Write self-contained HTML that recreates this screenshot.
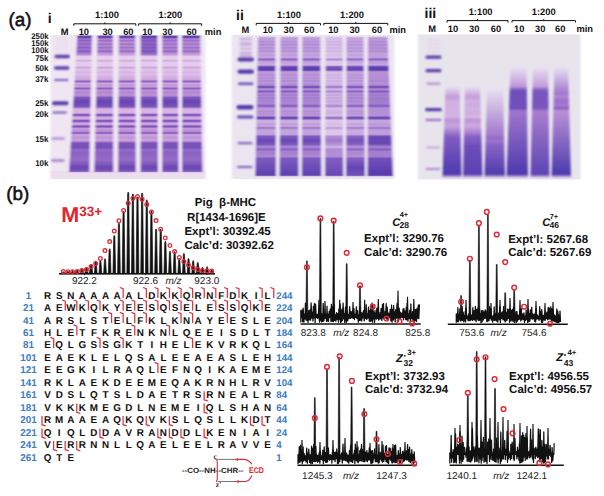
<!DOCTYPE html>
<html><head><meta charset="utf-8"><style>
html,body{margin:0;padding:0;background:#fff;width:604px;height:496px;overflow:hidden;}
svg{display:block;}
text{font-family:"Liberation Sans",sans-serif;text-rendering:geometricPrecision;}
</style></head><body>
<svg width="604" height="496" viewBox="0 0 604 496">
<defs>
<filter id="blur1" x="-5%" y="-5%" width="110%" height="110%"><feGaussianBlur stdDeviation="0.9 0"/></filter>
<filter id="blurM" x="-5%" y="-5%" width="110%" height="110%"><feGaussianBlur stdDeviation="0.8"/></filter>
<filter id="blur2" x="-5%" y="-5%" width="110%" height="110%"><feGaussianBlur stdDeviation="1.3 1.0"/></filter>
<linearGradient id="g1" gradientUnits="userSpaceOnUse" x1="0" y1="35.5" x2="0" y2="172.3"><stop offset="0.0000" stop-color="#7550b8"/><stop offset="0.0073" stop-color="#613fae"/><stop offset="0.0110" stop-color="#603fad"/><stop offset="0.0146" stop-color="#6946b2"/><stop offset="0.0238" stop-color="#996ec9"/><stop offset="0.0274" stop-color="#9e73ca"/><stop offset="0.0365" stop-color="#8b61c3"/><stop offset="0.0493" stop-color="#a378cc"/><stop offset="0.0621" stop-color="#8e63c5"/><stop offset="0.0749" stop-color="#a479cc"/><stop offset="0.0877" stop-color="#8b61c3"/><stop offset="0.1005" stop-color="#a176cb"/><stop offset="0.1133" stop-color="#855cc0"/><stop offset="0.1188" stop-color="#8b62c4"/><stop offset="0.1298" stop-color="#a87dce"/><stop offset="0.1389" stop-color="#b78bd4"/><stop offset="0.1535" stop-color="#e4caeb"/><stop offset="0.1681" stop-color="#e6d1ed"/><stop offset="0.1736" stop-color="#e4cbeb"/><stop offset="0.1827" stop-color="#d2aee1"/><stop offset="0.1864" stop-color="#d2aee1"/><stop offset="0.1974" stop-color="#e4cceb"/><stop offset="0.2211" stop-color="#e3caea"/><stop offset="0.2339" stop-color="#cda7de"/><stop offset="0.2376" stop-color="#cda7de"/><stop offset="0.2485" stop-color="#e1c3e8"/><stop offset="0.2723" stop-color="#d7b6e3"/><stop offset="0.2851" stop-color="#ddbee7"/><stop offset="0.2979" stop-color="#d4b1e2"/><stop offset="0.3070" stop-color="#d4b1e2"/><stop offset="0.3162" stop-color="#cda7de"/><stop offset="0.3216" stop-color="#cca6de"/><stop offset="0.3253" stop-color="#c298d8"/><stop offset="0.3326" stop-color="#9369c7"/><stop offset="0.3344" stop-color="#8e64c5"/><stop offset="0.3363" stop-color="#8d63c5"/><stop offset="0.3399" stop-color="#9b71c9"/><stop offset="0.3472" stop-color="#c69eda"/><stop offset="0.3509" stop-color="#cca6dd"/><stop offset="0.3618" stop-color="#c095d7"/><stop offset="0.3728" stop-color="#c69eda"/><stop offset="0.3765" stop-color="#c094d7"/><stop offset="0.3838" stop-color="#946ac7"/><stop offset="0.3874" stop-color="#8a60c3"/><stop offset="0.3911" stop-color="#9268c6"/><stop offset="0.3984" stop-color="#b88dd4"/><stop offset="0.4020" stop-color="#bf94d7"/><stop offset="0.4130" stop-color="#b186d1"/><stop offset="0.4349" stop-color="#be93d6"/><stop offset="0.4423" stop-color="#b185d1"/><stop offset="0.4532" stop-color="#8058be"/><stop offset="0.4806" stop-color="#6745b1"/><stop offset="0.5172" stop-color="#7751b9"/><stop offset="0.5227" stop-color="#895fc2"/><stop offset="0.5355" stop-color="#cda7de"/><stop offset="0.5428" stop-color="#d7b6e3"/><stop offset="0.5629" stop-color="#d5b2e2"/><stop offset="0.5665" stop-color="#cea9de"/><stop offset="0.5702" stop-color="#bf93d6"/><stop offset="0.5757" stop-color="#9066c6"/><stop offset="0.5793" stop-color="#7d56bc"/><stop offset="0.5811" stop-color="#7a54bb"/><stop offset="0.5830" stop-color="#7c55bc"/><stop offset="0.5866" stop-color="#8f65c5"/><stop offset="0.5939" stop-color="#c59cda"/><stop offset="0.5976" stop-color="#cfaadf"/><stop offset="0.6067" stop-color="#d1ace0"/><stop offset="0.6104" stop-color="#caa3dd"/><stop offset="0.6140" stop-color="#bb8fd5"/><stop offset="0.6195" stop-color="#8f65c5"/><stop offset="0.6232" stop-color="#7c55bc"/><stop offset="0.6250" stop-color="#7953ba"/><stop offset="0.6287" stop-color="#835bbf"/><stop offset="0.6378" stop-color="#c39ad9"/><stop offset="0.6414" stop-color="#cda7de"/><stop offset="0.6469" stop-color="#cfaadf"/><stop offset="0.6506" stop-color="#c9a1dc"/><stop offset="0.6542" stop-color="#ba8ed4"/><stop offset="0.6597" stop-color="#8e64c5"/><stop offset="0.6634" stop-color="#7c55bc"/><stop offset="0.6670" stop-color="#7c55bb"/><stop offset="0.6707" stop-color="#8d63c5"/><stop offset="0.6762" stop-color="#b78cd4"/><stop offset="0.6798" stop-color="#c59bda"/><stop offset="0.6835" stop-color="#c59bda"/><stop offset="0.6908" stop-color="#ba8ed5"/><stop offset="0.6981" stop-color="#bf94d7"/><stop offset="0.7018" stop-color="#b68bd3"/><stop offset="0.7091" stop-color="#8d63c4"/><stop offset="0.7127" stop-color="#885fc2"/><stop offset="0.7164" stop-color="#966bc7"/><stop offset="0.7237" stop-color="#c298d8"/><stop offset="0.7292" stop-color="#cca5dd"/><stop offset="0.7456" stop-color="#bf94d7"/><stop offset="0.7639" stop-color="#cba4dd"/><stop offset="0.7712" stop-color="#c298d8"/><stop offset="0.7858" stop-color="#7c55bc"/><stop offset="0.8187" stop-color="#7550b8"/><stop offset="0.8370" stop-color="#986ec8"/><stop offset="0.8534" stop-color="#8b62c4"/><stop offset="0.9101" stop-color="#956bc7"/><stop offset="0.9631" stop-color="#6b47b3"/><stop offset="0.9887" stop-color="#7953ba"/><stop offset="0.9996" stop-color="#ae83d0"/></linearGradient>
<linearGradient id="g2" gradientUnits="userSpaceOnUse" x1="0" y1="35.5" x2="0" y2="172.3"><stop offset="0.0000" stop-color="#7550b8"/><stop offset="0.0073" stop-color="#6140ae"/><stop offset="0.0110" stop-color="#6140ae"/><stop offset="0.0146" stop-color="#6d49b4"/><stop offset="0.0219" stop-color="#9f75cb"/><stop offset="0.0256" stop-color="#ae83d0"/><stop offset="0.0292" stop-color="#ad81d0"/><stop offset="0.0365" stop-color="#9a6fc9"/><stop offset="0.0402" stop-color="#9d72ca"/><stop offset="0.0475" stop-color="#b488d2"/><stop offset="0.0512" stop-color="#b68bd3"/><stop offset="0.0621" stop-color="#9c72ca"/><stop offset="0.0676" stop-color="#a479cd"/><stop offset="0.0749" stop-color="#b68bd3"/><stop offset="0.0804" stop-color="#af83d0"/><stop offset="0.0877" stop-color="#9a6fc9"/><stop offset="0.0914" stop-color="#9d72ca"/><stop offset="0.0987" stop-color="#b286d2"/><stop offset="0.1023" stop-color="#b286d2"/><stop offset="0.1115" stop-color="#966bc7"/><stop offset="0.1151" stop-color="#9369c7"/><stop offset="0.1298" stop-color="#bc90d5"/><stop offset="0.1407" stop-color="#c9a1dc"/><stop offset="0.1535" stop-color="#e4cceb"/><stop offset="0.1681" stop-color="#e6d1ed"/><stop offset="0.1736" stop-color="#e4cbeb"/><stop offset="0.1827" stop-color="#d2aee1"/><stop offset="0.1864" stop-color="#d2aee1"/><stop offset="0.1974" stop-color="#e4cceb"/><stop offset="0.2211" stop-color="#e3caea"/><stop offset="0.2339" stop-color="#cda7de"/><stop offset="0.2376" stop-color="#cda7de"/><stop offset="0.2485" stop-color="#e1c3e8"/><stop offset="0.2723" stop-color="#d7b6e3"/><stop offset="0.2851" stop-color="#ddbee7"/><stop offset="0.2979" stop-color="#d4b1e2"/><stop offset="0.3070" stop-color="#d4b1e2"/><stop offset="0.3162" stop-color="#cda7de"/><stop offset="0.3216" stop-color="#cca6de"/><stop offset="0.3253" stop-color="#c298d8"/><stop offset="0.3326" stop-color="#9369c7"/><stop offset="0.3344" stop-color="#8e64c5"/><stop offset="0.3363" stop-color="#8d63c5"/><stop offset="0.3399" stop-color="#9b71c9"/><stop offset="0.3472" stop-color="#c69eda"/><stop offset="0.3509" stop-color="#cca6dd"/><stop offset="0.3618" stop-color="#c095d7"/><stop offset="0.3728" stop-color="#c69eda"/><stop offset="0.3765" stop-color="#c094d7"/><stop offset="0.3838" stop-color="#946ac7"/><stop offset="0.3874" stop-color="#8a60c3"/><stop offset="0.3911" stop-color="#9268c6"/><stop offset="0.3984" stop-color="#b88dd4"/><stop offset="0.4020" stop-color="#bf94d7"/><stop offset="0.4130" stop-color="#b186d1"/><stop offset="0.4349" stop-color="#be93d6"/><stop offset="0.4423" stop-color="#b185d1"/><stop offset="0.4532" stop-color="#8058be"/><stop offset="0.4806" stop-color="#6745b1"/><stop offset="0.5172" stop-color="#7751b9"/><stop offset="0.5227" stop-color="#895fc2"/><stop offset="0.5355" stop-color="#cda7de"/><stop offset="0.5428" stop-color="#d7b6e3"/><stop offset="0.5629" stop-color="#d5b2e2"/><stop offset="0.5665" stop-color="#cea9de"/><stop offset="0.5702" stop-color="#bf93d6"/><stop offset="0.5757" stop-color="#9066c6"/><stop offset="0.5793" stop-color="#7d56bc"/><stop offset="0.5811" stop-color="#7a54bb"/><stop offset="0.5830" stop-color="#7c55bc"/><stop offset="0.5866" stop-color="#8f65c5"/><stop offset="0.5939" stop-color="#c59cda"/><stop offset="0.5976" stop-color="#cfaadf"/><stop offset="0.6067" stop-color="#d1ace0"/><stop offset="0.6104" stop-color="#caa3dd"/><stop offset="0.6140" stop-color="#bb8fd5"/><stop offset="0.6195" stop-color="#8f65c5"/><stop offset="0.6232" stop-color="#7c55bc"/><stop offset="0.6250" stop-color="#7953ba"/><stop offset="0.6287" stop-color="#835bbf"/><stop offset="0.6378" stop-color="#c39ad9"/><stop offset="0.6414" stop-color="#cda7de"/><stop offset="0.6469" stop-color="#cfaadf"/><stop offset="0.6506" stop-color="#c9a1dc"/><stop offset="0.6542" stop-color="#ba8ed4"/><stop offset="0.6597" stop-color="#8e64c5"/><stop offset="0.6634" stop-color="#7c55bc"/><stop offset="0.6670" stop-color="#7c55bb"/><stop offset="0.6707" stop-color="#8d63c5"/><stop offset="0.6762" stop-color="#b78cd4"/><stop offset="0.6798" stop-color="#c59bda"/><stop offset="0.6835" stop-color="#c59bda"/><stop offset="0.6908" stop-color="#ba8ed5"/><stop offset="0.6981" stop-color="#bf94d7"/><stop offset="0.7018" stop-color="#b68bd3"/><stop offset="0.7091" stop-color="#8d63c4"/><stop offset="0.7127" stop-color="#885fc2"/><stop offset="0.7164" stop-color="#966bc7"/><stop offset="0.7237" stop-color="#c298d8"/><stop offset="0.7292" stop-color="#cca5dd"/><stop offset="0.7456" stop-color="#bf94d7"/><stop offset="0.7639" stop-color="#cba4dd"/><stop offset="0.7712" stop-color="#c298d8"/><stop offset="0.7858" stop-color="#7c55bc"/><stop offset="0.8187" stop-color="#7550b8"/><stop offset="0.8370" stop-color="#986ec8"/><stop offset="0.8534" stop-color="#8b62c4"/><stop offset="0.9101" stop-color="#956bc7"/><stop offset="0.9631" stop-color="#6b47b3"/><stop offset="0.9887" stop-color="#7953ba"/><stop offset="0.9996" stop-color="#ae83d0"/></linearGradient>
<linearGradient id="g3" gradientUnits="userSpaceOnUse" x1="0" y1="35.5" x2="0" y2="172.3"><stop offset="0.0000" stop-color="#7550b8"/><stop offset="0.0073" stop-color="#6140ae"/><stop offset="0.0110" stop-color="#6140ae"/><stop offset="0.0146" stop-color="#6d4ab4"/><stop offset="0.0219" stop-color="#a277cc"/><stop offset="0.0256" stop-color="#b286d2"/><stop offset="0.0292" stop-color="#b085d1"/><stop offset="0.0365" stop-color="#9d73ca"/><stop offset="0.0402" stop-color="#a076cb"/><stop offset="0.0475" stop-color="#b78cd4"/><stop offset="0.0512" stop-color="#ba8ed5"/><stop offset="0.0621" stop-color="#a075cb"/><stop offset="0.0676" stop-color="#a87dce"/><stop offset="0.0749" stop-color="#ba8ed5"/><stop offset="0.0804" stop-color="#b287d2"/><stop offset="0.0877" stop-color="#9d73ca"/><stop offset="0.0914" stop-color="#a075cb"/><stop offset="0.0987" stop-color="#b68ad3"/><stop offset="0.1023" stop-color="#b68ad3"/><stop offset="0.1115" stop-color="#996fc9"/><stop offset="0.1151" stop-color="#966cc8"/><stop offset="0.1298" stop-color="#bf94d7"/><stop offset="0.1407" stop-color="#cba4dd"/><stop offset="0.1535" stop-color="#e4cceb"/><stop offset="0.1681" stop-color="#e6d1ed"/><stop offset="0.1736" stop-color="#e4cbeb"/><stop offset="0.1827" stop-color="#d2aee1"/><stop offset="0.1864" stop-color="#d2aee1"/><stop offset="0.1974" stop-color="#e4cceb"/><stop offset="0.2211" stop-color="#e3caea"/><stop offset="0.2339" stop-color="#cda7de"/><stop offset="0.2376" stop-color="#cda7de"/><stop offset="0.2485" stop-color="#e1c3e8"/><stop offset="0.2723" stop-color="#d7b6e3"/><stop offset="0.2851" stop-color="#ddbee7"/><stop offset="0.2979" stop-color="#d4b1e2"/><stop offset="0.3070" stop-color="#d4b1e2"/><stop offset="0.3162" stop-color="#cda7de"/><stop offset="0.3216" stop-color="#cca6de"/><stop offset="0.3253" stop-color="#c298d8"/><stop offset="0.3326" stop-color="#9369c7"/><stop offset="0.3344" stop-color="#8e64c5"/><stop offset="0.3363" stop-color="#8d63c5"/><stop offset="0.3399" stop-color="#9b71c9"/><stop offset="0.3472" stop-color="#c69eda"/><stop offset="0.3509" stop-color="#cca6dd"/><stop offset="0.3618" stop-color="#c095d7"/><stop offset="0.3728" stop-color="#c69eda"/><stop offset="0.3765" stop-color="#c094d7"/><stop offset="0.3838" stop-color="#946ac7"/><stop offset="0.3874" stop-color="#8a60c3"/><stop offset="0.3911" stop-color="#9268c6"/><stop offset="0.3984" stop-color="#b88dd4"/><stop offset="0.4020" stop-color="#bf94d7"/><stop offset="0.4130" stop-color="#b186d1"/><stop offset="0.4349" stop-color="#be93d6"/><stop offset="0.4423" stop-color="#b185d1"/><stop offset="0.4532" stop-color="#8058be"/><stop offset="0.4806" stop-color="#6745b1"/><stop offset="0.5172" stop-color="#7751b9"/><stop offset="0.5227" stop-color="#895fc2"/><stop offset="0.5355" stop-color="#cda7de"/><stop offset="0.5428" stop-color="#d7b6e3"/><stop offset="0.5629" stop-color="#d5b2e2"/><stop offset="0.5665" stop-color="#cea9de"/><stop offset="0.5702" stop-color="#bf93d6"/><stop offset="0.5757" stop-color="#9066c6"/><stop offset="0.5793" stop-color="#7d56bc"/><stop offset="0.5811" stop-color="#7a54bb"/><stop offset="0.5830" stop-color="#7c55bc"/><stop offset="0.5866" stop-color="#8f65c5"/><stop offset="0.5939" stop-color="#c59cda"/><stop offset="0.5976" stop-color="#cfaadf"/><stop offset="0.6067" stop-color="#d1ace0"/><stop offset="0.6104" stop-color="#caa3dd"/><stop offset="0.6140" stop-color="#bb8fd5"/><stop offset="0.6195" stop-color="#8f65c5"/><stop offset="0.6232" stop-color="#7c55bc"/><stop offset="0.6250" stop-color="#7953ba"/><stop offset="0.6287" stop-color="#835bbf"/><stop offset="0.6378" stop-color="#c39ad9"/><stop offset="0.6414" stop-color="#cda7de"/><stop offset="0.6469" stop-color="#cfaadf"/><stop offset="0.6506" stop-color="#c9a1dc"/><stop offset="0.6542" stop-color="#ba8ed4"/><stop offset="0.6597" stop-color="#8e64c5"/><stop offset="0.6634" stop-color="#7c55bc"/><stop offset="0.6670" stop-color="#7c55bb"/><stop offset="0.6707" stop-color="#8d63c5"/><stop offset="0.6762" stop-color="#b78cd4"/><stop offset="0.6798" stop-color="#c59bda"/><stop offset="0.6835" stop-color="#c59bda"/><stop offset="0.6908" stop-color="#ba8ed5"/><stop offset="0.6981" stop-color="#bf94d7"/><stop offset="0.7018" stop-color="#b68bd3"/><stop offset="0.7091" stop-color="#8d63c4"/><stop offset="0.7127" stop-color="#885fc2"/><stop offset="0.7164" stop-color="#966bc7"/><stop offset="0.7237" stop-color="#c298d8"/><stop offset="0.7292" stop-color="#cca5dd"/><stop offset="0.7456" stop-color="#bf94d7"/><stop offset="0.7639" stop-color="#cba4dd"/><stop offset="0.7712" stop-color="#c298d8"/><stop offset="0.7858" stop-color="#7c55bc"/><stop offset="0.8187" stop-color="#7550b8"/><stop offset="0.8370" stop-color="#986ec8"/><stop offset="0.8534" stop-color="#8b62c4"/><stop offset="0.9101" stop-color="#956bc7"/><stop offset="0.9631" stop-color="#6b47b3"/><stop offset="0.9887" stop-color="#7953ba"/><stop offset="0.9996" stop-color="#ae83d0"/></linearGradient>
<linearGradient id="g4" gradientUnits="userSpaceOnUse" x1="0" y1="35.5" x2="0" y2="172.3"><stop offset="0.0000" stop-color="#7550b8"/><stop offset="0.0073" stop-color="#613fad"/><stop offset="0.0128" stop-color="#613fad"/><stop offset="0.0238" stop-color="#865dc1"/><stop offset="0.0292" stop-color="#885fc2"/><stop offset="0.0384" stop-color="#7e57bd"/><stop offset="0.0512" stop-color="#8e64c5"/><stop offset="0.0640" stop-color="#8159be"/><stop offset="0.0768" stop-color="#8e64c5"/><stop offset="0.0895" stop-color="#7e57bd"/><stop offset="0.1005" stop-color="#8c62c4"/><stop offset="0.1151" stop-color="#7a54bb"/><stop offset="0.1371" stop-color="#9c71ca"/><stop offset="0.1425" stop-color="#b58ad3"/><stop offset="0.1517" stop-color="#e0c3e8"/><stop offset="0.1572" stop-color="#e6cfec"/><stop offset="0.1700" stop-color="#e6d0ec"/><stop offset="0.1827" stop-color="#d2aee1"/><stop offset="0.1864" stop-color="#d2aee1"/><stop offset="0.1974" stop-color="#e4cceb"/><stop offset="0.2211" stop-color="#e3caea"/><stop offset="0.2339" stop-color="#cda7de"/><stop offset="0.2376" stop-color="#cda7de"/><stop offset="0.2485" stop-color="#e1c3e8"/><stop offset="0.2723" stop-color="#d7b6e3"/><stop offset="0.2851" stop-color="#ddbee7"/><stop offset="0.2979" stop-color="#d4b1e2"/><stop offset="0.3070" stop-color="#d4b1e2"/><stop offset="0.3162" stop-color="#cda7de"/><stop offset="0.3216" stop-color="#cca6de"/><stop offset="0.3253" stop-color="#c298d8"/><stop offset="0.3326" stop-color="#9369c7"/><stop offset="0.3344" stop-color="#8e64c5"/><stop offset="0.3363" stop-color="#8d63c5"/><stop offset="0.3399" stop-color="#9b71c9"/><stop offset="0.3472" stop-color="#c69eda"/><stop offset="0.3509" stop-color="#cca6dd"/><stop offset="0.3618" stop-color="#c095d7"/><stop offset="0.3728" stop-color="#c69eda"/><stop offset="0.3765" stop-color="#c094d7"/><stop offset="0.3838" stop-color="#946ac7"/><stop offset="0.3874" stop-color="#8a60c3"/><stop offset="0.3911" stop-color="#9268c6"/><stop offset="0.3984" stop-color="#b88dd4"/><stop offset="0.4020" stop-color="#bf94d7"/><stop offset="0.4130" stop-color="#b186d1"/><stop offset="0.4349" stop-color="#be93d6"/><stop offset="0.4423" stop-color="#b185d1"/><stop offset="0.4532" stop-color="#8058be"/><stop offset="0.4806" stop-color="#6745b1"/><stop offset="0.5172" stop-color="#7751b9"/><stop offset="0.5227" stop-color="#895fc2"/><stop offset="0.5355" stop-color="#cda7de"/><stop offset="0.5428" stop-color="#d7b6e3"/><stop offset="0.5629" stop-color="#d5b2e2"/><stop offset="0.5665" stop-color="#cea9de"/><stop offset="0.5702" stop-color="#bf93d6"/><stop offset="0.5757" stop-color="#9066c6"/><stop offset="0.5793" stop-color="#7d56bc"/><stop offset="0.5811" stop-color="#7a54bb"/><stop offset="0.5830" stop-color="#7c55bc"/><stop offset="0.5866" stop-color="#8f65c5"/><stop offset="0.5939" stop-color="#c59cda"/><stop offset="0.5976" stop-color="#cfaadf"/><stop offset="0.6067" stop-color="#d1ace0"/><stop offset="0.6104" stop-color="#caa3dd"/><stop offset="0.6140" stop-color="#bb8fd5"/><stop offset="0.6195" stop-color="#8f65c5"/><stop offset="0.6232" stop-color="#7c55bc"/><stop offset="0.6250" stop-color="#7953ba"/><stop offset="0.6287" stop-color="#835bbf"/><stop offset="0.6378" stop-color="#c39ad9"/><stop offset="0.6414" stop-color="#cda7de"/><stop offset="0.6469" stop-color="#cfaadf"/><stop offset="0.6506" stop-color="#c9a1dc"/><stop offset="0.6542" stop-color="#ba8ed4"/><stop offset="0.6597" stop-color="#8e64c5"/><stop offset="0.6634" stop-color="#7c55bc"/><stop offset="0.6670" stop-color="#7c55bb"/><stop offset="0.6707" stop-color="#8d63c5"/><stop offset="0.6762" stop-color="#b78cd4"/><stop offset="0.6798" stop-color="#c59bda"/><stop offset="0.6835" stop-color="#c59bda"/><stop offset="0.6908" stop-color="#ba8ed5"/><stop offset="0.6981" stop-color="#bf94d7"/><stop offset="0.7018" stop-color="#b68bd3"/><stop offset="0.7091" stop-color="#8d63c4"/><stop offset="0.7127" stop-color="#885fc2"/><stop offset="0.7164" stop-color="#966bc7"/><stop offset="0.7237" stop-color="#c298d8"/><stop offset="0.7292" stop-color="#cca5dd"/><stop offset="0.7456" stop-color="#bf94d7"/><stop offset="0.7639" stop-color="#cba4dd"/><stop offset="0.7712" stop-color="#c298d8"/><stop offset="0.7858" stop-color="#7c55bc"/><stop offset="0.8187" stop-color="#7550b8"/><stop offset="0.8370" stop-color="#986ec8"/><stop offset="0.8534" stop-color="#8b62c4"/><stop offset="0.9101" stop-color="#956bc7"/><stop offset="0.9631" stop-color="#6b47b3"/><stop offset="0.9887" stop-color="#7953ba"/><stop offset="0.9996" stop-color="#ae83d0"/></linearGradient>
<linearGradient id="g5" gradientUnits="userSpaceOnUse" x1="0" y1="35.5" x2="0" y2="172.3"><stop offset="0.0000" stop-color="#7550b8"/><stop offset="0.0073" stop-color="#6140ae"/><stop offset="0.0110" stop-color="#613fad"/><stop offset="0.0146" stop-color="#6c48b3"/><stop offset="0.0238" stop-color="#a67bcd"/><stop offset="0.0274" stop-color="#ac81d0"/><stop offset="0.0365" stop-color="#996ec9"/><stop offset="0.0420" stop-color="#a075cb"/><stop offset="0.0493" stop-color="#b387d2"/><stop offset="0.0548" stop-color="#ad82d0"/><stop offset="0.0621" stop-color="#9b71c9"/><stop offset="0.0749" stop-color="#b387d2"/><stop offset="0.0804" stop-color="#ac81cf"/><stop offset="0.0877" stop-color="#996ec9"/><stop offset="0.0932" stop-color="#a075cb"/><stop offset="0.0987" stop-color="#af84d1"/><stop offset="0.1023" stop-color="#af83d1"/><stop offset="0.1133" stop-color="#9268c6"/><stop offset="0.1188" stop-color="#996fc9"/><stop offset="0.1279" stop-color="#b58ad3"/><stop offset="0.1389" stop-color="#c399d9"/><stop offset="0.1535" stop-color="#e4cbeb"/><stop offset="0.1681" stop-color="#e6d1ed"/><stop offset="0.1736" stop-color="#e4cbeb"/><stop offset="0.1827" stop-color="#d2aee1"/><stop offset="0.1864" stop-color="#d2aee1"/><stop offset="0.1974" stop-color="#e4cceb"/><stop offset="0.2211" stop-color="#e3caea"/><stop offset="0.2339" stop-color="#cda7de"/><stop offset="0.2376" stop-color="#cda7de"/><stop offset="0.2485" stop-color="#e1c3e8"/><stop offset="0.2723" stop-color="#d7b6e3"/><stop offset="0.2851" stop-color="#ddbee7"/><stop offset="0.2979" stop-color="#d4b1e2"/><stop offset="0.3070" stop-color="#d4b1e2"/><stop offset="0.3162" stop-color="#cda7de"/><stop offset="0.3216" stop-color="#cca6de"/><stop offset="0.3253" stop-color="#c298d8"/><stop offset="0.3326" stop-color="#9369c7"/><stop offset="0.3344" stop-color="#8e64c5"/><stop offset="0.3363" stop-color="#8d63c5"/><stop offset="0.3399" stop-color="#9b71c9"/><stop offset="0.3472" stop-color="#c69eda"/><stop offset="0.3509" stop-color="#cca6dd"/><stop offset="0.3618" stop-color="#c095d7"/><stop offset="0.3728" stop-color="#c69eda"/><stop offset="0.3765" stop-color="#c094d7"/><stop offset="0.3838" stop-color="#946ac7"/><stop offset="0.3874" stop-color="#8a60c3"/><stop offset="0.3911" stop-color="#9268c6"/><stop offset="0.3984" stop-color="#b88dd4"/><stop offset="0.4020" stop-color="#bf94d7"/><stop offset="0.4130" stop-color="#b186d1"/><stop offset="0.4349" stop-color="#be93d6"/><stop offset="0.4423" stop-color="#b185d1"/><stop offset="0.4532" stop-color="#8058be"/><stop offset="0.4806" stop-color="#6745b1"/><stop offset="0.5172" stop-color="#7751b9"/><stop offset="0.5227" stop-color="#895fc2"/><stop offset="0.5355" stop-color="#cda7de"/><stop offset="0.5428" stop-color="#d7b6e3"/><stop offset="0.5629" stop-color="#d5b2e2"/><stop offset="0.5665" stop-color="#cea9de"/><stop offset="0.5702" stop-color="#bf93d6"/><stop offset="0.5757" stop-color="#9066c6"/><stop offset="0.5793" stop-color="#7d56bc"/><stop offset="0.5811" stop-color="#7a54bb"/><stop offset="0.5830" stop-color="#7c55bc"/><stop offset="0.5866" stop-color="#8f65c5"/><stop offset="0.5939" stop-color="#c59cda"/><stop offset="0.5976" stop-color="#cfaadf"/><stop offset="0.6067" stop-color="#d1ace0"/><stop offset="0.6104" stop-color="#caa3dd"/><stop offset="0.6140" stop-color="#bb8fd5"/><stop offset="0.6195" stop-color="#8f65c5"/><stop offset="0.6232" stop-color="#7c55bc"/><stop offset="0.6250" stop-color="#7953ba"/><stop offset="0.6287" stop-color="#835bbf"/><stop offset="0.6378" stop-color="#c39ad9"/><stop offset="0.6414" stop-color="#cda7de"/><stop offset="0.6469" stop-color="#cfaadf"/><stop offset="0.6506" stop-color="#c9a1dc"/><stop offset="0.6542" stop-color="#ba8ed4"/><stop offset="0.6597" stop-color="#8e64c5"/><stop offset="0.6634" stop-color="#7c55bc"/><stop offset="0.6670" stop-color="#7c55bb"/><stop offset="0.6707" stop-color="#8d63c5"/><stop offset="0.6762" stop-color="#b78cd4"/><stop offset="0.6798" stop-color="#c59bda"/><stop offset="0.6835" stop-color="#c59bda"/><stop offset="0.6908" stop-color="#ba8ed5"/><stop offset="0.6981" stop-color="#bf94d7"/><stop offset="0.7018" stop-color="#b68bd3"/><stop offset="0.7091" stop-color="#8d63c4"/><stop offset="0.7127" stop-color="#885fc2"/><stop offset="0.7164" stop-color="#966bc7"/><stop offset="0.7237" stop-color="#c298d8"/><stop offset="0.7292" stop-color="#cca5dd"/><stop offset="0.7456" stop-color="#bf94d7"/><stop offset="0.7639" stop-color="#cba4dd"/><stop offset="0.7712" stop-color="#c298d8"/><stop offset="0.7858" stop-color="#7c55bc"/><stop offset="0.8187" stop-color="#7550b8"/><stop offset="0.8370" stop-color="#986ec8"/><stop offset="0.8534" stop-color="#8b62c4"/><stop offset="0.9101" stop-color="#956bc7"/><stop offset="0.9631" stop-color="#6b47b3"/><stop offset="0.9887" stop-color="#7953ba"/><stop offset="0.9996" stop-color="#ae83d0"/></linearGradient>
<linearGradient id="g6" gradientUnits="userSpaceOnUse" x1="0" y1="35.5" x2="0" y2="172.3"><stop offset="0.0000" stop-color="#7550b8"/><stop offset="0.0073" stop-color="#6140ae"/><stop offset="0.0110" stop-color="#6140ae"/><stop offset="0.0146" stop-color="#6d49b4"/><stop offset="0.0238" stop-color="#a97ece"/><stop offset="0.0274" stop-color="#b085d1"/><stop offset="0.0365" stop-color="#9c71ca"/><stop offset="0.0420" stop-color="#a479cd"/><stop offset="0.0493" stop-color="#b78bd3"/><stop offset="0.0548" stop-color="#b185d1"/><stop offset="0.0621" stop-color="#9f74cb"/><stop offset="0.0749" stop-color="#b78bd3"/><stop offset="0.0804" stop-color="#b084d1"/><stop offset="0.0877" stop-color="#9c71ca"/><stop offset="0.0932" stop-color="#a479cd"/><stop offset="0.0987" stop-color="#b387d2"/><stop offset="0.1023" stop-color="#b387d2"/><stop offset="0.1133" stop-color="#966bc8"/><stop offset="0.1188" stop-color="#9d72ca"/><stop offset="0.1279" stop-color="#b98dd4"/><stop offset="0.1389" stop-color="#c59cda"/><stop offset="0.1535" stop-color="#e4cceb"/><stop offset="0.1681" stop-color="#e6d1ed"/><stop offset="0.1736" stop-color="#e4cbeb"/><stop offset="0.1827" stop-color="#d2aee1"/><stop offset="0.1864" stop-color="#d2aee1"/><stop offset="0.1974" stop-color="#e4cceb"/><stop offset="0.2211" stop-color="#e3caea"/><stop offset="0.2339" stop-color="#cda7de"/><stop offset="0.2376" stop-color="#cda7de"/><stop offset="0.2485" stop-color="#e1c3e8"/><stop offset="0.2723" stop-color="#d7b6e3"/><stop offset="0.2851" stop-color="#ddbee7"/><stop offset="0.2979" stop-color="#d4b1e2"/><stop offset="0.3070" stop-color="#d4b1e2"/><stop offset="0.3162" stop-color="#cda7de"/><stop offset="0.3216" stop-color="#cca6de"/><stop offset="0.3253" stop-color="#c298d8"/><stop offset="0.3326" stop-color="#9369c7"/><stop offset="0.3344" stop-color="#8e64c5"/><stop offset="0.3363" stop-color="#8d63c5"/><stop offset="0.3399" stop-color="#9b71c9"/><stop offset="0.3472" stop-color="#c69eda"/><stop offset="0.3509" stop-color="#cca6dd"/><stop offset="0.3618" stop-color="#c095d7"/><stop offset="0.3728" stop-color="#c69eda"/><stop offset="0.3765" stop-color="#c094d7"/><stop offset="0.3838" stop-color="#946ac7"/><stop offset="0.3874" stop-color="#8a60c3"/><stop offset="0.3911" stop-color="#9268c6"/><stop offset="0.3984" stop-color="#b88dd4"/><stop offset="0.4020" stop-color="#bf94d7"/><stop offset="0.4130" stop-color="#b186d1"/><stop offset="0.4349" stop-color="#be93d6"/><stop offset="0.4423" stop-color="#b185d1"/><stop offset="0.4532" stop-color="#8058be"/><stop offset="0.4806" stop-color="#6745b1"/><stop offset="0.5172" stop-color="#7751b9"/><stop offset="0.5227" stop-color="#895fc2"/><stop offset="0.5355" stop-color="#cda7de"/><stop offset="0.5428" stop-color="#d7b6e3"/><stop offset="0.5629" stop-color="#d5b2e2"/><stop offset="0.5665" stop-color="#cea9de"/><stop offset="0.5702" stop-color="#bf93d6"/><stop offset="0.5757" stop-color="#9066c6"/><stop offset="0.5793" stop-color="#7d56bc"/><stop offset="0.5811" stop-color="#7a54bb"/><stop offset="0.5830" stop-color="#7c55bc"/><stop offset="0.5866" stop-color="#8f65c5"/><stop offset="0.5939" stop-color="#c59cda"/><stop offset="0.5976" stop-color="#cfaadf"/><stop offset="0.6067" stop-color="#d1ace0"/><stop offset="0.6104" stop-color="#caa3dd"/><stop offset="0.6140" stop-color="#bb8fd5"/><stop offset="0.6195" stop-color="#8f65c5"/><stop offset="0.6232" stop-color="#7c55bc"/><stop offset="0.6250" stop-color="#7953ba"/><stop offset="0.6287" stop-color="#835bbf"/><stop offset="0.6378" stop-color="#c39ad9"/><stop offset="0.6414" stop-color="#cda7de"/><stop offset="0.6469" stop-color="#cfaadf"/><stop offset="0.6506" stop-color="#c9a1dc"/><stop offset="0.6542" stop-color="#ba8ed4"/><stop offset="0.6597" stop-color="#8e64c5"/><stop offset="0.6634" stop-color="#7c55bc"/><stop offset="0.6670" stop-color="#7c55bb"/><stop offset="0.6707" stop-color="#8d63c5"/><stop offset="0.6762" stop-color="#b78cd4"/><stop offset="0.6798" stop-color="#c59bda"/><stop offset="0.6835" stop-color="#c59bda"/><stop offset="0.6908" stop-color="#ba8ed5"/><stop offset="0.6981" stop-color="#bf94d7"/><stop offset="0.7018" stop-color="#b68bd3"/><stop offset="0.7091" stop-color="#8d63c4"/><stop offset="0.7127" stop-color="#885fc2"/><stop offset="0.7164" stop-color="#966bc7"/><stop offset="0.7237" stop-color="#c298d8"/><stop offset="0.7292" stop-color="#cca5dd"/><stop offset="0.7456" stop-color="#bf94d7"/><stop offset="0.7639" stop-color="#cba4dd"/><stop offset="0.7712" stop-color="#c298d8"/><stop offset="0.7858" stop-color="#7c55bc"/><stop offset="0.8187" stop-color="#7550b8"/><stop offset="0.8370" stop-color="#986ec8"/><stop offset="0.8534" stop-color="#8b62c4"/><stop offset="0.9101" stop-color="#956bc7"/><stop offset="0.9631" stop-color="#6b47b3"/><stop offset="0.9887" stop-color="#7953ba"/><stop offset="0.9996" stop-color="#ae83d0"/></linearGradient>
<linearGradient id="g7" gradientUnits="userSpaceOnUse" x1="0" y1="36.5" x2="0" y2="176.3"><stop offset="0.0000" stop-color="#d7c0e8"/><stop offset="0.0125" stop-color="#bc9ad9"/><stop offset="0.0268" stop-color="#c09fdb"/><stop offset="0.0358" stop-color="#b38dd4"/><stop offset="0.0465" stop-color="#bd9cda"/><stop offset="0.0572" stop-color="#b18bd4"/><stop offset="0.0715" stop-color="#bd9bda"/><stop offset="0.0823" stop-color="#b18bd4"/><stop offset="0.0930" stop-color="#bd9cda"/><stop offset="0.1037" stop-color="#b28dd4"/><stop offset="0.1198" stop-color="#c5a6de"/><stop offset="0.1341" stop-color="#bd9bda"/><stop offset="0.1466" stop-color="#c7a9df"/><stop offset="0.1520" stop-color="#bd9cda"/><stop offset="0.1609" stop-color="#926dc8"/><stop offset="0.1645" stop-color="#8c67c6"/><stop offset="0.1681" stop-color="#926dc8"/><stop offset="0.1770" stop-color="#be9cda"/><stop offset="0.2003" stop-color="#c8aadf"/><stop offset="0.2039" stop-color="#c3a4dd"/><stop offset="0.2074" stop-color="#b590d6"/><stop offset="0.2164" stop-color="#6d4db8"/><stop offset="0.2200" stop-color="#5f42b1"/><stop offset="0.2361" stop-color="#5c3faf"/><stop offset="0.2396" stop-color="#6445b3"/><stop offset="0.2432" stop-color="#7755bd"/><stop offset="0.2504" stop-color="#af89d3"/><stop offset="0.2539" stop-color="#bb99d9"/><stop offset="0.2665" stop-color="#bc99d9"/><stop offset="0.2754" stop-color="#b28cd4"/><stop offset="0.2879" stop-color="#ba98d8"/><stop offset="0.2986" stop-color="#b28cd4"/><stop offset="0.3076" stop-color="#ba97d8"/><stop offset="0.3183" stop-color="#ac86d2"/><stop offset="0.3290" stop-color="#ba97d8"/><stop offset="0.3469" stop-color="#b18bd3"/><stop offset="0.3505" stop-color="#a47ecf"/><stop offset="0.3577" stop-color="#7856bd"/><stop offset="0.3612" stop-color="#7050b9"/><stop offset="0.3648" stop-color="#7755bd"/><stop offset="0.3737" stop-color="#ac86d2"/><stop offset="0.3773" stop-color="#b590d6"/><stop offset="0.3809" stop-color="#b38dd4"/><stop offset="0.3916" stop-color="#825ec2"/><stop offset="0.3952" stop-color="#815ec2"/><stop offset="0.4041" stop-color="#a883d0"/><stop offset="0.4077" stop-color="#af89d3"/><stop offset="0.4185" stop-color="#a17bce"/><stop offset="0.4292" stop-color="#ad88d2"/><stop offset="0.4399" stop-color="#a07bcd"/><stop offset="0.4524" stop-color="#ad87d2"/><stop offset="0.4649" stop-color="#a782d0"/><stop offset="0.4810" stop-color="#ac87d2"/><stop offset="0.4954" stop-color="#835fc2"/><stop offset="0.4989" stop-color="#8460c3"/><stop offset="0.5114" stop-color="#b895d7"/><stop offset="0.5222" stop-color="#bd9bda"/><stop offset="0.5329" stop-color="#b28cd4"/><stop offset="0.5436" stop-color="#b793d7"/><stop offset="0.5526" stop-color="#b28cd4"/><stop offset="0.5633" stop-color="#bc9ad9"/><stop offset="0.5669" stop-color="#b792d6"/><stop offset="0.5705" stop-color="#a57fcf"/><stop offset="0.5776" stop-color="#7352bb"/><stop offset="0.5812" stop-color="#6849b5"/><stop offset="0.5848" stop-color="#6949b5"/><stop offset="0.5883" stop-color="#7654bc"/><stop offset="0.5973" stop-color="#bb99d9"/><stop offset="0.6009" stop-color="#c9abe0"/><stop offset="0.6152" stop-color="#caaee1"/><stop offset="0.6259" stop-color="#bc99d9"/><stop offset="0.6384" stop-color="#c8aadf"/><stop offset="0.6438" stop-color="#be9cda"/><stop offset="0.6509" stop-color="#a57fcf"/><stop offset="0.6563" stop-color="#a17cce"/><stop offset="0.6688" stop-color="#c4a5de"/><stop offset="0.6992" stop-color="#c3a3dd"/><stop offset="0.7046" stop-color="#b38dd4"/><stop offset="0.7135" stop-color="#7f5cc1"/><stop offset="0.7421" stop-color="#6a4ab6"/><stop offset="0.7707" stop-color="#7856bd"/><stop offset="0.7851" stop-color="#a782d0"/><stop offset="0.7922" stop-color="#ac86d2"/><stop offset="0.8065" stop-color="#8864c4"/><stop offset="0.8119" stop-color="#8b67c5"/><stop offset="0.8208" stop-color="#a681d0"/><stop offset="0.8369" stop-color="#a680cf"/><stop offset="0.8548" stop-color="#b08ad3"/><stop offset="0.8619" stop-color="#a27dce"/><stop offset="0.8709" stop-color="#7e5bc0"/><stop offset="0.9853" stop-color="#6042b1"/><stop offset="0.9907" stop-color="#6a4bb6"/><stop offset="0.9996" stop-color="#9b76cb"/></linearGradient>
<linearGradient id="g8" gradientUnits="userSpaceOnUse" x1="0" y1="36.5" x2="0" y2="176.3"><stop offset="0.0000" stop-color="#d4bbe6"/><stop offset="0.0143" stop-color="#b996d8"/><stop offset="0.0268" stop-color="#bc9ad9"/><stop offset="0.0358" stop-color="#b08bd3"/><stop offset="0.0483" stop-color="#b895d7"/><stop offset="0.0590" stop-color="#af89d3"/><stop offset="0.0715" stop-color="#b894d7"/><stop offset="0.0840" stop-color="#b08ad3"/><stop offset="0.0948" stop-color="#b895d7"/><stop offset="0.1037" stop-color="#b08ad3"/><stop offset="0.1216" stop-color="#c09fdb"/><stop offset="0.1484" stop-color="#c1a1dc"/><stop offset="0.1538" stop-color="#b38dd5"/><stop offset="0.1609" stop-color="#916cc8"/><stop offset="0.1645" stop-color="#8b67c5"/><stop offset="0.1681" stop-color="#916cc8"/><stop offset="0.1770" stop-color="#ba97d8"/><stop offset="0.2003" stop-color="#c3a4dd"/><stop offset="0.2057" stop-color="#b996d8"/><stop offset="0.2092" stop-color="#a47fcf"/><stop offset="0.2164" stop-color="#6c4cb7"/><stop offset="0.2200" stop-color="#5f41b0"/><stop offset="0.2361" stop-color="#5c3faf"/><stop offset="0.2396" stop-color="#6345b3"/><stop offset="0.2432" stop-color="#7554bc"/><stop offset="0.2504" stop-color="#aa84d1"/><stop offset="0.2539" stop-color="#b692d6"/><stop offset="0.3112" stop-color="#b28dd4"/><stop offset="0.3183" stop-color="#a984d1"/><stop offset="0.3308" stop-color="#b691d6"/><stop offset="0.3469" stop-color="#ad87d2"/><stop offset="0.3505" stop-color="#a07acd"/><stop offset="0.3577" stop-color="#7755bc"/><stop offset="0.3612" stop-color="#704fb9"/><stop offset="0.3648" stop-color="#7654bc"/><stop offset="0.3737" stop-color="#a781d0"/><stop offset="0.3773" stop-color="#af89d3"/><stop offset="0.3809" stop-color="#ad87d2"/><stop offset="0.3916" stop-color="#805dc1"/><stop offset="0.3952" stop-color="#805cc1"/><stop offset="0.4041" stop-color="#a27dce"/><stop offset="0.4095" stop-color="#a883d0"/><stop offset="0.4202" stop-color="#9f79cd"/><stop offset="0.4310" stop-color="#a781d0"/><stop offset="0.4417" stop-color="#9e79cc"/><stop offset="0.4810" stop-color="#a57fcf"/><stop offset="0.4954" stop-color="#825ec2"/><stop offset="0.4989" stop-color="#835fc3"/><stop offset="0.5114" stop-color="#b38ed5"/><stop offset="0.5651" stop-color="#b591d6"/><stop offset="0.5687" stop-color="#aa85d1"/><stop offset="0.5776" stop-color="#7251ba"/><stop offset="0.5812" stop-color="#6849b5"/><stop offset="0.5848" stop-color="#6849b5"/><stop offset="0.5883" stop-color="#7553bb"/><stop offset="0.5973" stop-color="#b894d7"/><stop offset="0.6009" stop-color="#c4a6de"/><stop offset="0.6170" stop-color="#c4a6de"/><stop offset="0.6259" stop-color="#ba97d8"/><stop offset="0.6384" stop-color="#c3a4dd"/><stop offset="0.6527" stop-color="#a17cce"/><stop offset="0.6581" stop-color="#a47ecf"/><stop offset="0.6688" stop-color="#c09fdb"/><stop offset="0.6974" stop-color="#c09fdb"/><stop offset="0.7028" stop-color="#b48fd5"/><stop offset="0.7135" stop-color="#7453bb"/><stop offset="0.7189" stop-color="#6849b5"/><stop offset="0.7690" stop-color="#6a4ab6"/><stop offset="0.7851" stop-color="#9f7acd"/><stop offset="0.7922" stop-color="#a47fcf"/><stop offset="0.8065" stop-color="#8763c4"/><stop offset="0.8119" stop-color="#8965c5"/><stop offset="0.8226" stop-color="#a37ece"/><stop offset="0.8566" stop-color="#a781d0"/><stop offset="0.8619" stop-color="#9974cb"/><stop offset="0.8709" stop-color="#7352bb"/><stop offset="0.9853" stop-color="#573bad"/><stop offset="0.9907" stop-color="#6243b2"/><stop offset="0.9996" stop-color="#936ec8"/></linearGradient>
<linearGradient id="g9" gradientUnits="userSpaceOnUse" x1="0" y1="36.5" x2="0" y2="176.3"><stop offset="0.0000" stop-color="#dbc5ea"/><stop offset="0.0125" stop-color="#c1a0dc"/><stop offset="0.0268" stop-color="#c5a6de"/><stop offset="0.0358" stop-color="#b794d7"/><stop offset="0.0465" stop-color="#c3a3dd"/><stop offset="0.0572" stop-color="#b692d6"/><stop offset="0.0715" stop-color="#c2a3dd"/><stop offset="0.0823" stop-color="#b692d6"/><stop offset="0.0930" stop-color="#c2a3dd"/><stop offset="0.1037" stop-color="#b793d7"/><stop offset="0.1180" stop-color="#caade1"/><stop offset="0.1341" stop-color="#c1a1dc"/><stop offset="0.1466" stop-color="#ccb0e2"/><stop offset="0.1520" stop-color="#c3a3dd"/><stop offset="0.1609" stop-color="#9974cb"/><stop offset="0.1645" stop-color="#936ec8"/><stop offset="0.1681" stop-color="#9974cb"/><stop offset="0.1770" stop-color="#c3a3dd"/><stop offset="0.2003" stop-color="#cdb1e2"/><stop offset="0.2057" stop-color="#c3a3dd"/><stop offset="0.2092" stop-color="#af89d3"/><stop offset="0.2164" stop-color="#7554bc"/><stop offset="0.2200" stop-color="#6848b5"/><stop offset="0.2361" stop-color="#6446b3"/><stop offset="0.2396" stop-color="#6c4cb7"/><stop offset="0.2432" stop-color="#7f5cc0"/><stop offset="0.2504" stop-color="#b591d6"/><stop offset="0.2539" stop-color="#c1a1dc"/><stop offset="0.2665" stop-color="#c1a1dc"/><stop offset="0.2754" stop-color="#b792d6"/><stop offset="0.2879" stop-color="#c09fdb"/><stop offset="0.2969" stop-color="#b792d6"/><stop offset="0.3076" stop-color="#c09fdb"/><stop offset="0.3183" stop-color="#b28cd4"/><stop offset="0.3290" stop-color="#c09fdb"/><stop offset="0.3469" stop-color="#b692d6"/><stop offset="0.3505" stop-color="#ab85d1"/><stop offset="0.3577" stop-color="#7f5cc1"/><stop offset="0.3612" stop-color="#7856bd"/><stop offset="0.3648" stop-color="#7f5bc0"/><stop offset="0.3737" stop-color="#b38ed5"/><stop offset="0.3773" stop-color="#bb99d9"/><stop offset="0.3809" stop-color="#b995d8"/><stop offset="0.3916" stop-color="#8a65c5"/><stop offset="0.3952" stop-color="#8965c5"/><stop offset="0.4041" stop-color="#b08ad3"/><stop offset="0.4077" stop-color="#b591d6"/><stop offset="0.4185" stop-color="#a782d0"/><stop offset="0.4292" stop-color="#b48fd5"/><stop offset="0.4399" stop-color="#a781d0"/><stop offset="0.4524" stop-color="#b48ed5"/><stop offset="0.4632" stop-color="#ac87d2"/><stop offset="0.4793" stop-color="#b591d6"/><stop offset="0.4864" stop-color="#a882d0"/><stop offset="0.4936" stop-color="#8e69c6"/><stop offset="0.4971" stop-color="#8a65c5"/><stop offset="0.5007" stop-color="#906cc7"/><stop offset="0.5114" stop-color="#be9dda"/><stop offset="0.5222" stop-color="#c3a3dd"/><stop offset="0.5329" stop-color="#b792d6"/><stop offset="0.5436" stop-color="#bc9ad9"/><stop offset="0.5526" stop-color="#b793d7"/><stop offset="0.5633" stop-color="#c2a2dc"/><stop offset="0.5669" stop-color="#bc9ad9"/><stop offset="0.5705" stop-color="#ac86d2"/><stop offset="0.5776" stop-color="#7b58be"/><stop offset="0.5812" stop-color="#704fb9"/><stop offset="0.5848" stop-color="#7150b9"/><stop offset="0.5883" stop-color="#7d5ac0"/><stop offset="0.5973" stop-color="#c1a0dc"/><stop offset="0.6009" stop-color="#cdb2e2"/><stop offset="0.6152" stop-color="#cfb4e3"/><stop offset="0.6259" stop-color="#c09fdb"/><stop offset="0.6384" stop-color="#ccb0e2"/><stop offset="0.6438" stop-color="#c3a3dd"/><stop offset="0.6509" stop-color="#ab85d1"/><stop offset="0.6563" stop-color="#a782d0"/><stop offset="0.6688" stop-color="#c9ace0"/><stop offset="0.6992" stop-color="#c8abe0"/><stop offset="0.7046" stop-color="#b996d8"/><stop offset="0.7135" stop-color="#8b66c5"/><stop offset="0.7421" stop-color="#7352bb"/><stop offset="0.7707" stop-color="#8460c3"/><stop offset="0.7851" stop-color="#b08ad3"/><stop offset="0.7922" stop-color="#b48ed5"/><stop offset="0.8065" stop-color="#8f6bc7"/><stop offset="0.8119" stop-color="#926ec8"/><stop offset="0.8208" stop-color="#ae88d3"/><stop offset="0.8369" stop-color="#ac87d2"/><stop offset="0.8566" stop-color="#b692d6"/><stop offset="0.8727" stop-color="#8661c3"/><stop offset="0.9371" stop-color="#6345b3"/><stop offset="0.9871" stop-color="#6f4fb9"/><stop offset="0.9925" stop-color="#7d5ac0"/><stop offset="0.9996" stop-color="#a57fcf"/></linearGradient>
<linearGradient id="g10" gradientUnits="userSpaceOnUse" x1="0" y1="36.5" x2="0" y2="176.3"><stop offset="0.0000" stop-color="#e2d0ed"/><stop offset="0.0143" stop-color="#d3bae5"/><stop offset="0.0268" stop-color="#d9c2e8"/><stop offset="0.0358" stop-color="#ceb2e2"/><stop offset="0.0465" stop-color="#d7c0e8"/><stop offset="0.0590" stop-color="#cdb2e2"/><stop offset="0.0715" stop-color="#d8c0e8"/><stop offset="0.0823" stop-color="#cdb1e2"/><stop offset="0.0930" stop-color="#d7c0e8"/><stop offset="0.1037" stop-color="#cdb2e2"/><stop offset="0.1198" stop-color="#ddc7ea"/><stop offset="0.1341" stop-color="#d5bce6"/><stop offset="0.1466" stop-color="#ddc8eb"/><stop offset="0.1520" stop-color="#d7bfe7"/><stop offset="0.1609" stop-color="#b995d7"/><stop offset="0.1645" stop-color="#b48fd5"/><stop offset="0.1699" stop-color="#be9cda"/><stop offset="0.1788" stop-color="#dbc5ea"/><stop offset="0.2021" stop-color="#ddc7ea"/><stop offset="0.2057" stop-color="#d5bce6"/><stop offset="0.2092" stop-color="#c0a0db"/><stop offset="0.2146" stop-color="#906cc7"/><stop offset="0.2182" stop-color="#7a57be"/><stop offset="0.2343" stop-color="#6f4fb9"/><stop offset="0.2378" stop-color="#7452bb"/><stop offset="0.2414" stop-color="#825ec2"/><stop offset="0.2504" stop-color="#c8abe0"/><stop offset="0.2539" stop-color="#d6bde7"/><stop offset="0.2665" stop-color="#d6bee7"/><stop offset="0.2754" stop-color="#cdb1e2"/><stop offset="0.2879" stop-color="#d5bde7"/><stop offset="0.2986" stop-color="#ceb2e2"/><stop offset="0.3076" stop-color="#d5bde6"/><stop offset="0.3183" stop-color="#c9ace0"/><stop offset="0.3308" stop-color="#d5bce6"/><stop offset="0.3487" stop-color="#cbafe1"/><stop offset="0.3577" stop-color="#a781d0"/><stop offset="0.3612" stop-color="#a07bcd"/><stop offset="0.3648" stop-color="#a681d0"/><stop offset="0.3737" stop-color="#ccb1e2"/><stop offset="0.3773" stop-color="#d3bae5"/><stop offset="0.3827" stop-color="#cdb2e2"/><stop offset="0.3916" stop-color="#af89d3"/><stop offset="0.3952" stop-color="#af89d3"/><stop offset="0.4059" stop-color="#cdb2e2"/><stop offset="0.4202" stop-color="#c4a5dd"/><stop offset="0.4292" stop-color="#ceb2e2"/><stop offset="0.4399" stop-color="#c3a3dd"/><stop offset="0.4524" stop-color="#cdb1e2"/><stop offset="0.4632" stop-color="#c6a8df"/><stop offset="0.4810" stop-color="#ceb3e3"/><stop offset="0.4954" stop-color="#af89d3"/><stop offset="0.5007" stop-color="#b38ed5"/><stop offset="0.5114" stop-color="#d5bce6"/><stop offset="0.5240" stop-color="#d6bee7"/><stop offset="0.5347" stop-color="#cdb2e2"/><stop offset="0.5544" stop-color="#cfb5e3"/><stop offset="0.5633" stop-color="#d8c0e8"/><stop offset="0.5687" stop-color="#ceb3e3"/><stop offset="0.5776" stop-color="#a37ece"/><stop offset="0.5812" stop-color="#9a75cb"/><stop offset="0.5848" stop-color="#9a75cb"/><stop offset="0.5883" stop-color="#a57fcf"/><stop offset="0.5973" stop-color="#d5bde7"/><stop offset="0.6026" stop-color="#decaeb"/><stop offset="0.6277" stop-color="#d4bbe6"/><stop offset="0.6384" stop-color="#ddc8eb"/><stop offset="0.6527" stop-color="#c2a2dc"/><stop offset="0.6581" stop-color="#c4a5dd"/><stop offset="0.6706" stop-color="#ddc8ea"/><stop offset="0.7010" stop-color="#dac4e9"/><stop offset="0.7153" stop-color="#b38dd4"/><stop offset="0.7421" stop-color="#a07bcd"/><stop offset="0.7743" stop-color="#b894d7"/><stop offset="0.7868" stop-color="#ccb0e2"/><stop offset="0.7958" stop-color="#c7a9df"/><stop offset="0.8065" stop-color="#b18bd4"/><stop offset="0.8566" stop-color="#b691d6"/><stop offset="0.8727" stop-color="#815dc2"/><stop offset="0.9871" stop-color="#6a4ab6"/><stop offset="0.9925" stop-color="#7956bd"/><stop offset="0.9996" stop-color="#a17cce"/></linearGradient>
<linearGradient id="g11" gradientUnits="userSpaceOnUse" x1="0" y1="86.0" x2="0" y2="177.5"><stop offset="0.0000" stop-color="#ebe4f1"/><stop offset="0.1202" stop-color="#c29ada"/><stop offset="0.1721" stop-color="#d1b0e1"/><stop offset="0.3470" stop-color="#d2b2e2"/><stop offset="0.3661" stop-color="#bb8fd6"/><stop offset="0.4344" stop-color="#caa6de"/><stop offset="0.5574" stop-color="#815cc2"/><stop offset="0.9645" stop-color="#4d3bad"/><stop offset="0.9727" stop-color="#5e45b4"/><stop offset="0.9945" stop-color="#cdabe0"/><stop offset="1.0000" stop-color="#dbc0e7"/></linearGradient>
<linearGradient id="g12" gradientUnits="userSpaceOnUse" x1="0" y1="86.0" x2="0" y2="177.5"><stop offset="0.0000" stop-color="#ebe4f1"/><stop offset="0.1202" stop-color="#c39cdb"/><stop offset="0.1694" stop-color="#d4b5e3"/><stop offset="0.1885" stop-color="#ccaadf"/><stop offset="0.2705" stop-color="#d4b5e3"/><stop offset="0.2869" stop-color="#cdaadf"/><stop offset="0.3443" stop-color="#d6b8e4"/><stop offset="0.3661" stop-color="#bb90d7"/><stop offset="0.4317" stop-color="#ceace0"/><stop offset="0.4536" stop-color="#c59fdc"/><stop offset="0.5383" stop-color="#986fca"/><stop offset="0.5519" stop-color="#835ec3"/><stop offset="0.6202" stop-color="#7c58c1"/><stop offset="0.6366" stop-color="#6f4fbb"/><stop offset="0.9645" stop-color="#5741b1"/><stop offset="0.9727" stop-color="#684bb8"/><stop offset="0.9945" stop-color="#d0afe1"/><stop offset="1.0000" stop-color="#ddc3e8"/></linearGradient>
<linearGradient id="g13" gradientUnits="userSpaceOnUse" x1="0" y1="86.0" x2="0" y2="177.5"><stop offset="0.0000" stop-color="#ece6f2"/><stop offset="0.5492" stop-color="#a176cd"/><stop offset="0.5628" stop-color="#9169c8"/><stop offset="0.6038" stop-color="#a177cd"/><stop offset="0.6257" stop-color="#8e66c7"/><stop offset="0.9645" stop-color="#4f3cae"/><stop offset="0.9727" stop-color="#6046b5"/><stop offset="0.9945" stop-color="#ceace0"/><stop offset="1.0000" stop-color="#dbc0e7"/></linearGradient>
<linearGradient id="g14" gradientUnits="userSpaceOnUse" x1="0" y1="66.0" x2="0" y2="177.5"><stop offset="0.0000" stop-color="#ebe5f2"/><stop offset="0.1816" stop-color="#c199da"/><stop offset="0.2175" stop-color="#6e4fbb"/><stop offset="0.3700" stop-color="#7150bc"/><stop offset="0.3812" stop-color="#684bb8"/><stop offset="0.4013" stop-color="#a176cd"/><stop offset="0.9709" stop-color="#4d3aad"/><stop offset="0.9776" stop-color="#5e45b4"/><stop offset="0.9955" stop-color="#cdabe0"/><stop offset="1.0000" stop-color="#dbc0e7"/></linearGradient>
<linearGradient id="g15" gradientUnits="userSpaceOnUse" x1="0" y1="66.0" x2="0" y2="177.5"><stop offset="0.0000" stop-color="#ebe5f2"/><stop offset="0.1839" stop-color="#c39cdb"/><stop offset="0.2197" stop-color="#7855bf"/><stop offset="0.3834" stop-color="#7855bf"/><stop offset="0.4013" stop-color="#aa7ed0"/><stop offset="0.9709" stop-color="#5c44b3"/><stop offset="0.9776" stop-color="#6c4dba"/><stop offset="0.9955" stop-color="#d1b1e2"/><stop offset="1.0000" stop-color="#dec4e8"/></linearGradient>
<linearGradient id="g16" gradientUnits="userSpaceOnUse" x1="0" y1="66.0" x2="0" y2="177.5"><stop offset="0.0000" stop-color="#ebe5f2"/><stop offset="0.2511" stop-color="#9f75cc"/><stop offset="0.2735" stop-color="#b689d4"/><stop offset="0.3072" stop-color="#9970ca"/><stop offset="0.3565" stop-color="#a97dd0"/><stop offset="0.3789" stop-color="#7e59c1"/><stop offset="0.3834" stop-color="#815cc2"/><stop offset="0.3991" stop-color="#bc91d7"/><stop offset="0.9709" stop-color="#4d3bad"/><stop offset="0.9776" stop-color="#5e45b4"/><stop offset="0.9955" stop-color="#cdabe0"/><stop offset="1.0000" stop-color="#dbc0e7"/></linearGradient>
</defs>
<rect width="604" height="496" fill="#fff"/>
<g filter="url(#blur1)">
<rect x="50.5" y="35" width="155" height="144" fill="#efe6f2"/>
<rect x="50.5" y="171" width="155" height="8" fill="#ebdeee"/>
<polygon points="77.3,35.5 92.0,35.5 89.3,172.3 69.0,172.3" fill="url(#g1)" opacity="1.00"/>
<polygon points="97.5,35.5 113.0,35.5 113.3,172.3 94.3,172.3" fill="url(#g2)" opacity="1.00"/>
<polygon points="118.8,35.5 135.3,35.5 135.8,172.3 118.0,172.3" fill="url(#g3)" opacity="1.00"/>
<polygon points="140.6,35.5 157.3,35.5 158.0,172.3 140.6,172.3" fill="url(#g4)" opacity="1.00"/>
<polygon points="162.2,35.5 178.0,35.5 178.6,172.3 162.2,172.3" fill="url(#g5)" opacity="1.00"/>
<polygon points="182.0,35.5 200.3,35.5 202.5,172.3 182.0,172.3" fill="url(#g6)" opacity="1.00"/>
</g>
<g filter="url(#blurM)">
<rect x="56.0" y="38.0" width="12.0" height="1.0" rx="0.5" fill="#e6d0ec"/>
<rect x="56.0" y="41.0" width="12.0" height="1.0" rx="0.5" fill="#e6d0ec"/>
<rect x="56.0" y="44.0" width="12.0" height="1.0" rx="0.5" fill="#e6d0ec"/>
<rect x="56.0" y="47.0" width="12.0" height="1.0" rx="0.5" fill="#e6d0ec"/>
<rect x="56.0" y="50.0" width="12.0" height="1.0" rx="0.5" fill="#e6d0ec"/>
<rect x="54.5" y="54.7" width="15.5" height="3.6" rx="1.8" fill="#5e3dac"/>
<rect x="54.0" y="66.2" width="15.5" height="3.6" rx="1.8" fill="#603fad"/>
<rect x="54.0" y="78.9" width="14.5" height="2.2" rx="1.1" fill="#825abf"/>
<rect x="52.0" y="101.3" width="16.5" height="4.0" rx="2.0" fill="#5a3aaa"/>
<rect x="52.5" y="111.4" width="14.5" height="2.2" rx="1.1" fill="#7a54bb"/>
<rect x="51.5" y="137.5" width="13.5" height="1.9" rx="0.9" fill="#a67bcd"/>
<rect x="51.0" y="159.6" width="13.5" height="2.0" rx="1.0" fill="#9268c6"/>
</g>
<g filter="url(#blur1)">
<rect x="231.5" y="35" width="163" height="144" fill="#ebe5f0"/>
<polygon points="258.0,36.5 275.3,36.5 276.0,176.3 255.3,176.3" fill="url(#g7)" opacity="1.00"/>
<polygon points="280.5,36.5 298.0,36.5 298.5,176.3 279.5,176.3" fill="url(#g7)" opacity="1.00"/>
<polygon points="302.3,36.5 320.3,36.5 321.3,176.3 301.8,176.3" fill="url(#g7)" opacity="1.00"/>
<polygon points="325.8,36.5 342.5,36.5 343.3,176.3 325.0,176.3" fill="url(#g10)" opacity="1.00"/>
<polygon points="346.5,36.5 363.5,36.5 365.0,176.3 346.0,176.3" fill="url(#g9)" opacity="1.00"/>
<polygon points="368.0,36.5 387.5,36.5 393.0,176.3 367.5,176.3" fill="url(#g8)" opacity="1.00"/>
</g>
<g filter="url(#blurM)">
<rect x="239.5" y="38.3" width="12.5" height="1.4" rx="0.7" fill="#b28cd4"/>
<rect x="239.5" y="42.2" width="12.5" height="1.4" rx="0.7" fill="#b28cd4"/>
<rect x="239.5" y="44.4" width="12.5" height="1.4" rx="0.7" fill="#b28cd4"/>
<rect x="239.5" y="48.2" width="12.5" height="1.4" rx="0.7" fill="#b28cd4"/>
<rect x="239.5" y="52.0" width="12.5" height="1.4" rx="0.7" fill="#b28cd4"/>
<rect x="239.5" y="55.0" width="12.5" height="1.4" rx="0.7" fill="#b28cd4"/>
<rect x="237.5" y="57.6" width="16.5" height="3.8" rx="1.9" fill="#563aac"/>
<rect x="237.5" y="69.4" width="16.5" height="4.4" rx="2.2" fill="#563aac"/>
<rect x="238.0" y="82.4" width="15.5" height="2.6" rx="1.3" fill="#6b4bb7"/>
<rect x="236.5" y="105.0" width="17.0" height="4.6" rx="2.3" fill="#563aac"/>
<rect x="237.0" y="115.5" width="16.5" height="2.9" rx="1.4" fill="#6446b3"/>
<rect x="237.5" y="142.1" width="15.0" height="2.2" rx="1.1" fill="#8864c4"/>
<rect x="237.0" y="165.9" width="15.5" height="2.2" rx="1.1" fill="#7d5abf"/>
</g>
<rect x="418" y="34.5" width="162.5" height="145" fill="#e7e4ec" filter="url(#blur1)"/>
<g filter="url(#blur2)">
<polygon points="445.5,86.0 459.5,86.0 461.5,177.5 442.5,177.5" fill="url(#g11)" opacity="1.00"/>
<polygon points="465.0,86.0 480.0,86.0 482.5,177.5 463.0,177.5" fill="url(#g12)" opacity="1.00"/>
<polygon points="487.0,86.0 503.0,86.0 505.0,177.5 484.5,177.5" fill="url(#g13)" opacity="1.00"/>
<polygon points="510.5,66.0 526.5,66.0 528.0,177.5 506.5,177.5" fill="url(#g14)" opacity="1.00"/>
<polygon points="533.0,66.0 548.0,66.0 549.5,177.5 530.5,177.5" fill="url(#g15)" opacity="1.00"/>
<polygon points="554.5,66.0 568.0,66.0 571.0,177.5 551.5,177.5" fill="url(#g16)" opacity="1.00"/>
</g>
<g filter="url(#blurM)">
<rect x="427.0" y="39.5" width="13.0" height="1.0" rx="0.5" fill="#e3c8ea"/>
<rect x="427.0" y="43.5" width="13.0" height="1.0" rx="0.5" fill="#e3c8ea"/>
<rect x="427.0" y="47.5" width="13.0" height="1.0" rx="0.5" fill="#e3c8ea"/>
<rect x="427.0" y="51.5" width="13.0" height="1.0" rx="0.5" fill="#e3c8ea"/>
<rect x="425.5" y="55.6" width="16.0" height="3.2" rx="1.6" fill="#5e3dac"/>
<rect x="425.5" y="69.0" width="16.0" height="3.2" rx="1.6" fill="#5e3dac"/>
<rect x="426.5" y="82.7" width="14.0" height="1.8" rx="0.9" fill="#a67bcd"/>
<rect x="425.0" y="107.9" width="17.0" height="3.4" rx="1.7" fill="#5a3aaa"/>
<rect x="425.5" y="119.0" width="16.0" height="1.9" rx="0.9" fill="#9268c6"/>
<rect x="426.0" y="146.7" width="14.0" height="1.6" rx="0.8" fill="#be92d6"/>
<rect x="425.5" y="168.0" width="15.0" height="1.7" rx="0.8" fill="#a67bcd"/>
</g>
<text x="8.6" y="25.6" font-size="18.80" font-weight="normal" text-anchor="start" fill="#111" stroke="#111" stroke-width="0.55">(a)</text>
<text x="47.8" y="23.0" font-size="14.00" font-weight="bold" text-anchor="start" fill="#111" >i</text>
<text x="236.0" y="20.2" font-size="14.00" font-weight="bold" text-anchor="start" fill="#111" >ii</text>
<text x="424.5" y="18.0" font-size="14.00" font-weight="bold" text-anchor="start" fill="#111" >iii</text>
<text x="64.5" y="34.6" font-size="9.30" font-weight="bold" text-anchor="middle" fill="#111" >M</text>
<text x="83.8" y="34.6" font-size="9.30" font-weight="bold" text-anchor="middle" fill="#111" >10</text>
<text x="107.6" y="34.6" font-size="9.30" font-weight="bold" text-anchor="middle" fill="#111" >30</text>
<text x="128.3" y="34.6" font-size="9.30" font-weight="bold" text-anchor="middle" fill="#111" >60</text>
<text x="147.3" y="34.6" font-size="9.30" font-weight="bold" text-anchor="middle" fill="#111" >10</text>
<text x="167.5" y="34.6" font-size="9.30" font-weight="bold" text-anchor="middle" fill="#111" >30</text>
<text x="191.6" y="34.6" font-size="9.30" font-weight="bold" text-anchor="middle" fill="#111" >60</text>
<text x="204.8" y="34.6" font-size="9.30" font-weight="bold" text-anchor="start" fill="#111" >min</text>
<text x="107.0" y="17.8" font-size="9.30" font-weight="bold" text-anchor="middle" fill="#111" >1:100</text>
<text x="170.3" y="17.8" font-size="9.30" font-weight="bold" text-anchor="middle" fill="#111" >1:200</text>
<path d="M73.8,25.8 V23.8 H135.8 V25.8 M104.8,23.8 V22.3" stroke="#111" stroke-width="1" fill="none"/>
<path d="M138.6,25.8 V23.8 H201.6 V25.8 M170.1,23.8 V22.3" stroke="#111" stroke-width="1" fill="none"/>
<text x="245.4" y="33.4" font-size="9.30" font-weight="bold" text-anchor="middle" fill="#111" >M</text>
<text x="267.8" y="33.4" font-size="9.30" font-weight="bold" text-anchor="middle" fill="#111" >10</text>
<text x="288.7" y="33.4" font-size="9.30" font-weight="bold" text-anchor="middle" fill="#111" >30</text>
<text x="309.2" y="33.4" font-size="9.30" font-weight="bold" text-anchor="middle" fill="#111" >60</text>
<text x="333.3" y="33.4" font-size="9.30" font-weight="bold" text-anchor="middle" fill="#111" >10</text>
<text x="354.6" y="33.4" font-size="9.30" font-weight="bold" text-anchor="middle" fill="#111" >30</text>
<text x="377.0" y="33.4" font-size="9.30" font-weight="bold" text-anchor="middle" fill="#111" >60</text>
<text x="389.5" y="33.4" font-size="9.30" font-weight="bold" text-anchor="start" fill="#111" >min</text>
<text x="289.0" y="17.7" font-size="9.30" font-weight="bold" text-anchor="middle" fill="#111" >1:100</text>
<text x="352.0" y="17.7" font-size="9.30" font-weight="bold" text-anchor="middle" fill="#111" >1:200</text>
<path d="M256.2,25.4 V23.4 H320.5 V25.4 M288.4,23.4 V21.9" stroke="#111" stroke-width="1" fill="none"/>
<path d="M323.8,25.4 V23.4 H387.8 V25.4 M355.8,23.4 V21.9" stroke="#111" stroke-width="1" fill="none"/>
<text x="432.0" y="32.0" font-size="9.30" font-weight="bold" text-anchor="middle" fill="#111" >M</text>
<text x="453.0" y="32.0" font-size="9.30" font-weight="bold" text-anchor="middle" fill="#111" >10</text>
<text x="474.2" y="32.0" font-size="9.30" font-weight="bold" text-anchor="middle" fill="#111" >30</text>
<text x="495.9" y="32.0" font-size="9.30" font-weight="bold" text-anchor="middle" fill="#111" >60</text>
<text x="519.2" y="32.0" font-size="9.30" font-weight="bold" text-anchor="middle" fill="#111" >10</text>
<text x="540.2" y="32.0" font-size="9.30" font-weight="bold" text-anchor="middle" fill="#111" >30</text>
<text x="560.2" y="32.0" font-size="9.30" font-weight="bold" text-anchor="middle" fill="#111" >60</text>
<text x="576.4" y="32.0" font-size="9.30" font-weight="bold" text-anchor="start" fill="#111" >min</text>
<text x="480.6" y="15.2" font-size="9.30" font-weight="bold" text-anchor="middle" fill="#111" >1:100</text>
<text x="543.7" y="15.2" font-size="9.30" font-weight="bold" text-anchor="middle" fill="#111" >1:200</text>
<path d="M447.0,22.6 V20.6 H508.0 V22.6 M477.5,20.6 V19.1" stroke="#111" stroke-width="1" fill="none"/>
<path d="M512.0,22.6 V20.6 H575.5 V22.6 M543.8,20.6 V19.1" stroke="#111" stroke-width="1" fill="none"/>
<text x="48.5" y="39.0" font-size="8.30" font-weight="bold" text-anchor="end" fill="#111" textLength="17.2" lengthAdjust="spacingAndGlyphs">250k</text>
<text x="48.5" y="46.0" font-size="8.30" font-weight="bold" text-anchor="end" fill="#111" textLength="17.2" lengthAdjust="spacingAndGlyphs">150k</text>
<text x="48.5" y="53.4" font-size="8.30" font-weight="bold" text-anchor="end" fill="#111" textLength="17.2" lengthAdjust="spacingAndGlyphs">100k</text>
<text x="48.5" y="60.5" font-size="8.30" font-weight="bold" text-anchor="end" fill="#111" textLength="13.3" lengthAdjust="spacingAndGlyphs">75k</text>
<text x="48.5" y="71.0" font-size="8.30" font-weight="bold" text-anchor="end" fill="#111" textLength="13.3" lengthAdjust="spacingAndGlyphs">50k</text>
<text x="48.5" y="82.4" font-size="8.30" font-weight="bold" text-anchor="end" fill="#111" textLength="13.3" lengthAdjust="spacingAndGlyphs">37k</text>
<text x="48.5" y="105.9" font-size="8.30" font-weight="bold" text-anchor="end" fill="#111" textLength="13.3" lengthAdjust="spacingAndGlyphs">25k</text>
<text x="48.5" y="116.6" font-size="8.30" font-weight="bold" text-anchor="end" fill="#111" textLength="13.3" lengthAdjust="spacingAndGlyphs">20k</text>
<text x="48.5" y="141.6" font-size="8.30" font-weight="bold" text-anchor="end" fill="#111" textLength="13.3" lengthAdjust="spacingAndGlyphs">15k</text>
<text x="48.5" y="166.0" font-size="8.30" font-weight="bold" text-anchor="end" fill="#111" textLength="13.3" lengthAdjust="spacingAndGlyphs">10k</text>
<text x="6.2" y="200.0" font-size="18.80" font-weight="normal" text-anchor="start" fill="#111" stroke="#111" stroke-width="0.55">(b)</text>
<text x="61.2" y="221.9" font-size="21.60" font-weight="bold" text-anchor="start" fill="#e0262a" >M</text>
<text x="79.2" y="215.8" font-size="13.60" font-weight="bold" text-anchor="start" fill="#e0262a" >33+</text>
<path d="M61.56,273.40 L62.71,272.70 L63.26,271.50 L63.81,272.70 L64.96,273.40 Z M66.20,273.40 L67.35,272.20 L67.90,271.00 L68.45,272.20 L69.60,273.40 Z M70.84,273.40 L71.99,271.70 L72.54,270.50 L73.09,271.70 L74.24,273.40 Z M75.48,273.40 L76.63,271.20 L77.18,270.00 L77.73,271.20 L78.88,273.40 Z M80.12,273.40 L81.27,269.70 L81.82,268.50 L82.37,269.70 L83.52,273.40 Z M84.76,273.40 L85.91,268.20 L86.46,267.00 L87.01,268.20 L88.16,273.40 Z M89.40,273.40 L90.55,265.60 L91.10,264.40 L91.65,265.60 L92.80,273.40 Z M94.39,273.40 L95.19,262.10 L95.74,260.90 L96.29,262.10 L97.09,273.40 Z M99.03,273.40 L99.83,261.60 L100.38,260.40 L100.93,261.60 L101.73,273.40 Z M103.67,273.40 L104.47,259.80 L105.02,258.60 L105.57,259.80 L106.37,273.40 Z M108.31,273.40 L109.11,249.90 L109.66,248.70 L110.21,249.90 L111.01,273.40 Z M112.95,273.40 L113.75,236.60 L114.30,235.40 L114.85,236.60 L115.65,273.40 Z M117.59,273.40 L118.39,224.30 L118.94,223.10 L119.49,224.30 L120.29,273.40 Z M122.23,273.40 L123.03,212.60 L123.58,211.40 L124.13,212.60 L124.93,273.40 Z M126.87,273.40 L127.67,193.30 L128.22,192.10 L128.77,193.30 L129.57,273.40 Z M131.51,273.40 L132.31,195.00 L132.86,193.80 L133.41,195.00 L134.21,273.40 Z M136.15,273.40 L136.95,198.00 L137.50,196.80 L138.05,198.00 L138.85,273.40 Z M140.79,273.40 L141.59,194.10 L142.14,192.90 L142.69,194.10 L143.49,273.40 Z M145.43,273.40 L146.23,200.90 L146.78,199.70 L147.33,200.90 L148.13,273.40 Z M150.07,273.40 L150.87,212.00 L151.42,210.80 L151.97,212.00 L152.77,273.40 Z M154.71,273.40 L155.51,230.10 L156.06,228.90 L156.61,230.10 L157.41,273.40 Z M159.35,273.40 L160.15,230.20 L160.70,229.00 L161.25,230.20 L162.05,273.40 Z M163.99,273.40 L164.79,242.40 L165.34,241.20 L165.89,242.40 L166.69,273.40 Z M168.63,273.40 L169.43,252.30 L169.98,251.10 L170.53,252.30 L171.33,273.40 Z M173.27,273.40 L174.07,252.80 L174.62,251.60 L175.17,252.80 L175.97,273.40 Z M177.91,273.40 L178.71,259.50 L179.26,258.30 L179.81,259.50 L180.61,273.40 Z M182.55,273.40 L183.35,254.50 L183.90,253.30 L184.45,254.50 L185.25,273.40 Z M187.19,273.40 L187.99,259.50 L188.54,258.30 L189.09,259.50 L189.89,273.40 Z M191.83,273.40 L192.63,261.70 L193.18,260.50 L193.73,261.70 L194.53,273.40 Z M196.12,273.40 L197.27,263.40 L197.82,262.20 L198.37,263.40 L199.52,273.40 Z M200.76,273.40 L201.91,268.30 L202.46,267.10 L203.01,268.30 L204.16,273.40 Z M205.40,273.40 L206.55,267.80 L207.10,266.60 L207.65,267.80 L208.80,273.40 Z M210.04,273.40 L211.19,270.60 L211.74,269.40 L212.29,270.60 L213.44,273.40 Z " fill="#111" stroke="#111" stroke-width="0.7" stroke-linejoin="round"/>
<rect x="59" y="273.0" width="156" height="1.6" fill="#111"/>
<circle cx="63.3" cy="271.4" r="1.85" fill="none" stroke="#dc2a36" stroke-width="1.30"/>
<circle cx="67.9" cy="271.8" r="1.85" fill="none" stroke="#dc2a36" stroke-width="1.30"/>
<circle cx="72.5" cy="271.8" r="1.85" fill="none" stroke="#dc2a36" stroke-width="1.30"/>
<circle cx="77.2" cy="271.4" r="1.85" fill="none" stroke="#dc2a36" stroke-width="1.30"/>
<circle cx="81.8" cy="270.4" r="1.85" fill="none" stroke="#dc2a36" stroke-width="1.30"/>
<circle cx="86.5" cy="269.4" r="1.85" fill="none" stroke="#dc2a36" stroke-width="1.30"/>
<circle cx="91.1" cy="266.5" r="1.85" fill="none" stroke="#dc2a36" stroke-width="1.30"/>
<circle cx="95.7" cy="263.5" r="1.85" fill="none" stroke="#dc2a36" stroke-width="1.30"/>
<circle cx="100.4" cy="258.5" r="1.85" fill="none" stroke="#dc2a36" stroke-width="1.30"/>
<circle cx="105.0" cy="250.6" r="1.85" fill="none" stroke="#dc2a36" stroke-width="1.30"/>
<circle cx="109.7" cy="241.6" r="1.85" fill="none" stroke="#dc2a36" stroke-width="1.30"/>
<circle cx="114.3" cy="231.1" r="1.85" fill="none" stroke="#dc2a36" stroke-width="1.30"/>
<circle cx="118.9" cy="220.8" r="1.85" fill="none" stroke="#dc2a36" stroke-width="1.30"/>
<circle cx="123.6" cy="210.4" r="1.85" fill="none" stroke="#dc2a36" stroke-width="1.30"/>
<circle cx="128.2" cy="203.3" r="1.85" fill="none" stroke="#dc2a36" stroke-width="1.30"/>
<circle cx="132.9" cy="198.5" r="1.85" fill="none" stroke="#dc2a36" stroke-width="1.30"/>
<circle cx="137.5" cy="196.6" r="1.85" fill="none" stroke="#dc2a36" stroke-width="1.30"/>
<circle cx="142.1" cy="199.3" r="1.85" fill="none" stroke="#dc2a36" stroke-width="1.30"/>
<circle cx="146.8" cy="204.4" r="1.85" fill="none" stroke="#dc2a36" stroke-width="1.30"/>
<circle cx="151.4" cy="211.9" r="1.85" fill="none" stroke="#dc2a36" stroke-width="1.30"/>
<circle cx="156.1" cy="220.6" r="1.85" fill="none" stroke="#dc2a36" stroke-width="1.30"/>
<circle cx="160.7" cy="229.3" r="1.85" fill="none" stroke="#dc2a36" stroke-width="1.30"/>
<circle cx="165.3" cy="238.0" r="1.85" fill="none" stroke="#dc2a36" stroke-width="1.30"/>
<circle cx="170.0" cy="245.5" r="1.85" fill="none" stroke="#dc2a36" stroke-width="1.30"/>
<circle cx="174.6" cy="251.6" r="1.85" fill="none" stroke="#dc2a36" stroke-width="1.30"/>
<circle cx="179.3" cy="257.4" r="1.85" fill="none" stroke="#dc2a36" stroke-width="1.30"/>
<circle cx="183.9" cy="261.6" r="1.85" fill="none" stroke="#dc2a36" stroke-width="1.30"/>
<circle cx="188.5" cy="264.9" r="1.85" fill="none" stroke="#dc2a36" stroke-width="1.30"/>
<circle cx="193.2" cy="267.7" r="1.85" fill="none" stroke="#dc2a36" stroke-width="1.30"/>
<circle cx="197.8" cy="269.4" r="1.85" fill="none" stroke="#dc2a36" stroke-width="1.30"/>
<circle cx="202.5" cy="270.5" r="1.85" fill="none" stroke="#dc2a36" stroke-width="1.30"/>
<circle cx="207.1" cy="271.0" r="1.85" fill="none" stroke="#dc2a36" stroke-width="1.30"/>
<circle cx="211.7" cy="271.0" r="1.85" fill="none" stroke="#dc2a36" stroke-width="1.30"/>
<line x1="84.4" y1="273.4" x2="84.4" y2="275.2" stroke="#111" stroke-width="0.8"/>
<line x1="145.5" y1="273.4" x2="145.5" y2="275.2" stroke="#111" stroke-width="0.8"/>
<line x1="206.8" y1="273.4" x2="206.8" y2="275.2" stroke="#111" stroke-width="0.8"/>
<text x="84.4" y="283.5" font-size="10.00" font-weight="normal" text-anchor="middle" fill="#222" >922.2</text>
<text x="145.5" y="283.5" font-size="10.00" font-weight="normal" text-anchor="middle" fill="#222" >922.6</text>
<text x="173.5" y="283.5" font-size="10.00" font-weight="normal" text-anchor="middle" fill="#222" font-style="italic">m/z</text>
<text x="206.8" y="283.5" font-size="10.00" font-weight="normal" text-anchor="middle" fill="#222" >923.0</text>
<text x="225.5" y="205.7" font-size="11.50" font-weight="bold" text-anchor="middle" fill="#111" >Pig&#160; β-MHC</text>
<text x="226.4" y="220.6" font-size="11.50" font-weight="bold" text-anchor="middle" fill="#111" >R[1434-1696]E</text>
<text x="184.4" y="234.6" font-size="11.50" font-weight="bold" text-anchor="start" fill="#111" >Expt’l: 30392.45</text>
<text x="184.4" y="248.8" font-size="11.50" font-weight="bold" text-anchor="start" fill="#111" >Calc’d: 30392.62</text>
<text x="28.4" y="298.5" font-size="9.90" font-weight="bold" text-anchor="middle" fill="#3b7cc4" >1</text>
<text x="47.6" y="298.5" font-size="9.90" font-weight="bold" text-anchor="middle" fill="#111" >R</text>
<text x="59.2" y="298.5" font-size="9.90" font-weight="bold" text-anchor="middle" fill="#111" >S</text>
<text x="70.8" y="298.5" font-size="9.90" font-weight="bold" text-anchor="middle" fill="#111" >N</text>
<text x="82.3" y="298.5" font-size="9.90" font-weight="bold" text-anchor="middle" fill="#111" >A</text>
<text x="93.9" y="298.5" font-size="9.90" font-weight="bold" text-anchor="middle" fill="#111" >A</text>
<text x="105.5" y="298.5" font-size="9.90" font-weight="bold" text-anchor="middle" fill="#111" >A</text>
<text x="117.1" y="298.5" font-size="9.90" font-weight="bold" text-anchor="middle" fill="#111" >A</text>
<text x="128.7" y="298.5" font-size="9.90" font-weight="bold" text-anchor="middle" fill="#111" >A</text>
<text x="140.2" y="298.5" font-size="9.90" font-weight="bold" text-anchor="middle" fill="#111" >L</text>
<text x="151.8" y="298.5" font-size="9.90" font-weight="bold" text-anchor="middle" fill="#111" >D</text>
<text x="163.4" y="298.5" font-size="9.90" font-weight="bold" text-anchor="middle" fill="#111" >K</text>
<text x="175.0" y="298.5" font-size="9.90" font-weight="bold" text-anchor="middle" fill="#111" >K</text>
<text x="186.6" y="298.5" font-size="9.90" font-weight="bold" text-anchor="middle" fill="#111" >Q</text>
<text x="198.1" y="298.5" font-size="9.90" font-weight="bold" text-anchor="middle" fill="#111" >R</text>
<text x="209.7" y="298.5" font-size="9.90" font-weight="bold" text-anchor="middle" fill="#111" >N</text>
<text x="221.3" y="298.5" font-size="9.90" font-weight="bold" text-anchor="middle" fill="#111" >F</text>
<text x="232.9" y="298.5" font-size="9.90" font-weight="bold" text-anchor="middle" fill="#111" >D</text>
<text x="244.5" y="298.5" font-size="9.90" font-weight="bold" text-anchor="middle" fill="#111" >K</text>
<text x="256.0" y="298.5" font-size="9.90" font-weight="bold" text-anchor="middle" fill="#111" >I</text>
<text x="267.6" y="298.5" font-size="9.90" font-weight="bold" text-anchor="middle" fill="#111" >L</text>
<text x="276.3" y="298.5" font-size="9.70" font-weight="bold" text-anchor="start" fill="#3b7cc4" >244</text>
<text x="28.4" y="311.0" font-size="9.90" font-weight="bold" text-anchor="middle" fill="#3b7cc4" >21</text>
<text x="47.6" y="311.0" font-size="9.90" font-weight="bold" text-anchor="middle" fill="#111" >A</text>
<text x="59.2" y="311.0" font-size="9.90" font-weight="bold" text-anchor="middle" fill="#111" >E</text>
<text x="70.8" y="311.0" font-size="9.90" font-weight="bold" text-anchor="middle" fill="#111" >W</text>
<text x="82.3" y="311.0" font-size="9.90" font-weight="bold" text-anchor="middle" fill="#111" >K</text>
<text x="93.9" y="311.0" font-size="9.90" font-weight="bold" text-anchor="middle" fill="#111" >Q</text>
<text x="105.5" y="311.0" font-size="9.90" font-weight="bold" text-anchor="middle" fill="#111" >K</text>
<text x="117.1" y="311.0" font-size="9.90" font-weight="bold" text-anchor="middle" fill="#111" >Y</text>
<text x="128.7" y="311.0" font-size="9.90" font-weight="bold" text-anchor="middle" fill="#111" >E</text>
<text x="140.2" y="311.0" font-size="9.90" font-weight="bold" text-anchor="middle" fill="#111" >E</text>
<text x="151.8" y="311.0" font-size="9.90" font-weight="bold" text-anchor="middle" fill="#111" >S</text>
<text x="163.4" y="311.0" font-size="9.90" font-weight="bold" text-anchor="middle" fill="#111" >Q</text>
<text x="175.0" y="311.0" font-size="9.90" font-weight="bold" text-anchor="middle" fill="#111" >S</text>
<text x="186.6" y="311.0" font-size="9.90" font-weight="bold" text-anchor="middle" fill="#111" >E</text>
<text x="198.1" y="311.0" font-size="9.90" font-weight="bold" text-anchor="middle" fill="#111" >L</text>
<text x="209.7" y="311.0" font-size="9.90" font-weight="bold" text-anchor="middle" fill="#111" >E</text>
<text x="221.3" y="311.0" font-size="9.90" font-weight="bold" text-anchor="middle" fill="#111" >S</text>
<text x="232.9" y="311.0" font-size="9.90" font-weight="bold" text-anchor="middle" fill="#111" >S</text>
<text x="244.5" y="311.0" font-size="9.90" font-weight="bold" text-anchor="middle" fill="#111" >Q</text>
<text x="256.0" y="311.0" font-size="9.90" font-weight="bold" text-anchor="middle" fill="#111" >K</text>
<text x="267.6" y="311.0" font-size="9.90" font-weight="bold" text-anchor="middle" fill="#111" >E</text>
<text x="276.3" y="311.0" font-size="9.70" font-weight="bold" text-anchor="start" fill="#3b7cc4" >224</text>
<text x="28.4" y="323.5" font-size="9.90" font-weight="bold" text-anchor="middle" fill="#3b7cc4" >41</text>
<text x="47.6" y="323.5" font-size="9.90" font-weight="bold" text-anchor="middle" fill="#111" >A</text>
<text x="59.2" y="323.5" font-size="9.90" font-weight="bold" text-anchor="middle" fill="#111" >R</text>
<text x="70.8" y="323.5" font-size="9.90" font-weight="bold" text-anchor="middle" fill="#111" >S</text>
<text x="82.3" y="323.5" font-size="9.90" font-weight="bold" text-anchor="middle" fill="#111" >L</text>
<text x="93.9" y="323.5" font-size="9.90" font-weight="bold" text-anchor="middle" fill="#111" >S</text>
<text x="105.5" y="323.5" font-size="9.90" font-weight="bold" text-anchor="middle" fill="#111" >T</text>
<text x="117.1" y="323.5" font-size="9.90" font-weight="bold" text-anchor="middle" fill="#111" >E</text>
<text x="128.7" y="323.5" font-size="9.90" font-weight="bold" text-anchor="middle" fill="#111" >L</text>
<text x="140.2" y="323.5" font-size="9.90" font-weight="bold" text-anchor="middle" fill="#111" >F</text>
<text x="151.8" y="323.5" font-size="9.90" font-weight="bold" text-anchor="middle" fill="#111" >K</text>
<text x="163.4" y="323.5" font-size="9.90" font-weight="bold" text-anchor="middle" fill="#111" >L</text>
<text x="175.0" y="323.5" font-size="9.90" font-weight="bold" text-anchor="middle" fill="#111" >K</text>
<text x="186.6" y="323.5" font-size="9.90" font-weight="bold" text-anchor="middle" fill="#111" >N</text>
<text x="198.1" y="323.5" font-size="9.90" font-weight="bold" text-anchor="middle" fill="#111" >A</text>
<text x="209.7" y="323.5" font-size="9.90" font-weight="bold" text-anchor="middle" fill="#111" >Y</text>
<text x="221.3" y="323.5" font-size="9.90" font-weight="bold" text-anchor="middle" fill="#111" >E</text>
<text x="232.9" y="323.5" font-size="9.90" font-weight="bold" text-anchor="middle" fill="#111" >E</text>
<text x="244.5" y="323.5" font-size="9.90" font-weight="bold" text-anchor="middle" fill="#111" >S</text>
<text x="256.0" y="323.5" font-size="9.90" font-weight="bold" text-anchor="middle" fill="#111" >L</text>
<text x="267.6" y="323.5" font-size="9.90" font-weight="bold" text-anchor="middle" fill="#111" >E</text>
<text x="276.3" y="323.5" font-size="9.70" font-weight="bold" text-anchor="start" fill="#3b7cc4" >204</text>
<text x="28.4" y="335.9" font-size="9.90" font-weight="bold" text-anchor="middle" fill="#3b7cc4" >61</text>
<text x="47.6" y="335.9" font-size="9.90" font-weight="bold" text-anchor="middle" fill="#111" >H</text>
<text x="59.2" y="335.9" font-size="9.90" font-weight="bold" text-anchor="middle" fill="#111" >L</text>
<text x="70.8" y="335.9" font-size="9.90" font-weight="bold" text-anchor="middle" fill="#111" >E</text>
<text x="82.3" y="335.9" font-size="9.90" font-weight="bold" text-anchor="middle" fill="#111" >T</text>
<text x="93.9" y="335.9" font-size="9.90" font-weight="bold" text-anchor="middle" fill="#111" >F</text>
<text x="105.5" y="335.9" font-size="9.90" font-weight="bold" text-anchor="middle" fill="#111" >K</text>
<text x="117.1" y="335.9" font-size="9.90" font-weight="bold" text-anchor="middle" fill="#111" >R</text>
<text x="128.7" y="335.9" font-size="9.90" font-weight="bold" text-anchor="middle" fill="#111" >E</text>
<text x="140.2" y="335.9" font-size="9.90" font-weight="bold" text-anchor="middle" fill="#111" >N</text>
<text x="151.8" y="335.9" font-size="9.90" font-weight="bold" text-anchor="middle" fill="#111" >K</text>
<text x="163.4" y="335.9" font-size="9.90" font-weight="bold" text-anchor="middle" fill="#111" >N</text>
<text x="175.0" y="335.9" font-size="9.90" font-weight="bold" text-anchor="middle" fill="#111" >L</text>
<text x="186.6" y="335.9" font-size="9.90" font-weight="bold" text-anchor="middle" fill="#111" >Q</text>
<text x="198.1" y="335.9" font-size="9.90" font-weight="bold" text-anchor="middle" fill="#111" >E</text>
<text x="209.7" y="335.9" font-size="9.90" font-weight="bold" text-anchor="middle" fill="#111" >E</text>
<text x="221.3" y="335.9" font-size="9.90" font-weight="bold" text-anchor="middle" fill="#111" >I</text>
<text x="232.9" y="335.9" font-size="9.90" font-weight="bold" text-anchor="middle" fill="#111" >S</text>
<text x="244.5" y="335.9" font-size="9.90" font-weight="bold" text-anchor="middle" fill="#111" >D</text>
<text x="256.0" y="335.9" font-size="9.90" font-weight="bold" text-anchor="middle" fill="#111" >L</text>
<text x="267.6" y="335.9" font-size="9.90" font-weight="bold" text-anchor="middle" fill="#111" >T</text>
<text x="276.3" y="335.9" font-size="9.70" font-weight="bold" text-anchor="start" fill="#3b7cc4" >184</text>
<text x="28.4" y="348.4" font-size="9.90" font-weight="bold" text-anchor="middle" fill="#3b7cc4" >81</text>
<text x="47.6" y="348.4" font-size="9.90" font-weight="bold" text-anchor="middle" fill="#111" >E</text>
<text x="59.2" y="348.4" font-size="9.90" font-weight="bold" text-anchor="middle" fill="#111" >Q</text>
<text x="70.8" y="348.4" font-size="9.90" font-weight="bold" text-anchor="middle" fill="#111" >L</text>
<text x="82.3" y="348.4" font-size="9.90" font-weight="bold" text-anchor="middle" fill="#111" >G</text>
<text x="93.9" y="348.4" font-size="9.90" font-weight="bold" text-anchor="middle" fill="#111" >S</text>
<text x="105.5" y="348.4" font-size="9.90" font-weight="bold" text-anchor="middle" fill="#111" >S</text>
<text x="117.1" y="348.4" font-size="9.90" font-weight="bold" text-anchor="middle" fill="#111" >G</text>
<text x="128.7" y="348.4" font-size="9.90" font-weight="bold" text-anchor="middle" fill="#111" >K</text>
<text x="140.2" y="348.4" font-size="9.90" font-weight="bold" text-anchor="middle" fill="#111" >T</text>
<text x="151.8" y="348.4" font-size="9.90" font-weight="bold" text-anchor="middle" fill="#111" >I</text>
<text x="163.4" y="348.4" font-size="9.90" font-weight="bold" text-anchor="middle" fill="#111" >H</text>
<text x="175.0" y="348.4" font-size="9.90" font-weight="bold" text-anchor="middle" fill="#111" >E</text>
<text x="186.6" y="348.4" font-size="9.90" font-weight="bold" text-anchor="middle" fill="#111" >L</text>
<text x="198.1" y="348.4" font-size="9.90" font-weight="bold" text-anchor="middle" fill="#111" >E</text>
<text x="209.7" y="348.4" font-size="9.90" font-weight="bold" text-anchor="middle" fill="#111" >K</text>
<text x="221.3" y="348.4" font-size="9.90" font-weight="bold" text-anchor="middle" fill="#111" >V</text>
<text x="232.9" y="348.4" font-size="9.90" font-weight="bold" text-anchor="middle" fill="#111" >R</text>
<text x="244.5" y="348.4" font-size="9.90" font-weight="bold" text-anchor="middle" fill="#111" >K</text>
<text x="256.0" y="348.4" font-size="9.90" font-weight="bold" text-anchor="middle" fill="#111" >Q</text>
<text x="267.6" y="348.4" font-size="9.90" font-weight="bold" text-anchor="middle" fill="#111" >L</text>
<text x="276.3" y="348.4" font-size="9.70" font-weight="bold" text-anchor="start" fill="#3b7cc4" >164</text>
<text x="28.4" y="360.9" font-size="9.90" font-weight="bold" text-anchor="middle" fill="#3b7cc4" >101</text>
<text x="47.6" y="360.9" font-size="9.90" font-weight="bold" text-anchor="middle" fill="#111" >E</text>
<text x="59.2" y="360.9" font-size="9.90" font-weight="bold" text-anchor="middle" fill="#111" >A</text>
<text x="70.8" y="360.9" font-size="9.90" font-weight="bold" text-anchor="middle" fill="#111" >E</text>
<text x="82.3" y="360.9" font-size="9.90" font-weight="bold" text-anchor="middle" fill="#111" >K</text>
<text x="93.9" y="360.9" font-size="9.90" font-weight="bold" text-anchor="middle" fill="#111" >L</text>
<text x="105.5" y="360.9" font-size="9.90" font-weight="bold" text-anchor="middle" fill="#111" >E</text>
<text x="117.1" y="360.9" font-size="9.90" font-weight="bold" text-anchor="middle" fill="#111" >L</text>
<text x="128.7" y="360.9" font-size="9.90" font-weight="bold" text-anchor="middle" fill="#111" >Q</text>
<text x="140.2" y="360.9" font-size="9.90" font-weight="bold" text-anchor="middle" fill="#111" >S</text>
<text x="151.8" y="360.9" font-size="9.90" font-weight="bold" text-anchor="middle" fill="#111" >A</text>
<text x="163.4" y="360.9" font-size="9.90" font-weight="bold" text-anchor="middle" fill="#111" >L</text>
<text x="175.0" y="360.9" font-size="9.90" font-weight="bold" text-anchor="middle" fill="#111" >E</text>
<text x="186.6" y="360.9" font-size="9.90" font-weight="bold" text-anchor="middle" fill="#111" >E</text>
<text x="198.1" y="360.9" font-size="9.90" font-weight="bold" text-anchor="middle" fill="#111" >A</text>
<text x="209.7" y="360.9" font-size="9.90" font-weight="bold" text-anchor="middle" fill="#111" >E</text>
<text x="221.3" y="360.9" font-size="9.90" font-weight="bold" text-anchor="middle" fill="#111" >A</text>
<text x="232.9" y="360.9" font-size="9.90" font-weight="bold" text-anchor="middle" fill="#111" >S</text>
<text x="244.5" y="360.9" font-size="9.90" font-weight="bold" text-anchor="middle" fill="#111" >L</text>
<text x="256.0" y="360.9" font-size="9.90" font-weight="bold" text-anchor="middle" fill="#111" >E</text>
<text x="267.6" y="360.9" font-size="9.90" font-weight="bold" text-anchor="middle" fill="#111" >H</text>
<text x="276.3" y="360.9" font-size="9.70" font-weight="bold" text-anchor="start" fill="#3b7cc4" >144</text>
<text x="28.4" y="373.4" font-size="9.90" font-weight="bold" text-anchor="middle" fill="#3b7cc4" >121</text>
<text x="47.6" y="373.4" font-size="9.90" font-weight="bold" text-anchor="middle" fill="#111" >E</text>
<text x="59.2" y="373.4" font-size="9.90" font-weight="bold" text-anchor="middle" fill="#111" >E</text>
<text x="70.8" y="373.4" font-size="9.90" font-weight="bold" text-anchor="middle" fill="#111" >G</text>
<text x="82.3" y="373.4" font-size="9.90" font-weight="bold" text-anchor="middle" fill="#111" >K</text>
<text x="93.9" y="373.4" font-size="9.90" font-weight="bold" text-anchor="middle" fill="#111" >I</text>
<text x="105.5" y="373.4" font-size="9.90" font-weight="bold" text-anchor="middle" fill="#111" >L</text>
<text x="117.1" y="373.4" font-size="9.90" font-weight="bold" text-anchor="middle" fill="#111" >R</text>
<text x="128.7" y="373.4" font-size="9.90" font-weight="bold" text-anchor="middle" fill="#111" >A</text>
<text x="140.2" y="373.4" font-size="9.90" font-weight="bold" text-anchor="middle" fill="#111" >Q</text>
<text x="151.8" y="373.4" font-size="9.90" font-weight="bold" text-anchor="middle" fill="#111" >L</text>
<text x="163.4" y="373.4" font-size="9.90" font-weight="bold" text-anchor="middle" fill="#111" >E</text>
<text x="175.0" y="373.4" font-size="9.90" font-weight="bold" text-anchor="middle" fill="#111" >F</text>
<text x="186.6" y="373.4" font-size="9.90" font-weight="bold" text-anchor="middle" fill="#111" >N</text>
<text x="198.1" y="373.4" font-size="9.90" font-weight="bold" text-anchor="middle" fill="#111" >Q</text>
<text x="209.7" y="373.4" font-size="9.90" font-weight="bold" text-anchor="middle" fill="#111" >I</text>
<text x="221.3" y="373.4" font-size="9.90" font-weight="bold" text-anchor="middle" fill="#111" >K</text>
<text x="232.9" y="373.4" font-size="9.90" font-weight="bold" text-anchor="middle" fill="#111" >A</text>
<text x="244.5" y="373.4" font-size="9.90" font-weight="bold" text-anchor="middle" fill="#111" >E</text>
<text x="256.0" y="373.4" font-size="9.90" font-weight="bold" text-anchor="middle" fill="#111" >M</text>
<text x="267.6" y="373.4" font-size="9.90" font-weight="bold" text-anchor="middle" fill="#111" >E</text>
<text x="276.3" y="373.4" font-size="9.70" font-weight="bold" text-anchor="start" fill="#3b7cc4" >124</text>
<text x="28.4" y="385.9" font-size="9.90" font-weight="bold" text-anchor="middle" fill="#3b7cc4" >141</text>
<text x="47.6" y="385.9" font-size="9.90" font-weight="bold" text-anchor="middle" fill="#111" >R</text>
<text x="59.2" y="385.9" font-size="9.90" font-weight="bold" text-anchor="middle" fill="#111" >K</text>
<text x="70.8" y="385.9" font-size="9.90" font-weight="bold" text-anchor="middle" fill="#111" >L</text>
<text x="82.3" y="385.9" font-size="9.90" font-weight="bold" text-anchor="middle" fill="#111" >A</text>
<text x="93.9" y="385.9" font-size="9.90" font-weight="bold" text-anchor="middle" fill="#111" >E</text>
<text x="105.5" y="385.9" font-size="9.90" font-weight="bold" text-anchor="middle" fill="#111" >K</text>
<text x="117.1" y="385.9" font-size="9.90" font-weight="bold" text-anchor="middle" fill="#111" >D</text>
<text x="128.7" y="385.9" font-size="9.90" font-weight="bold" text-anchor="middle" fill="#111" >E</text>
<text x="140.2" y="385.9" font-size="9.90" font-weight="bold" text-anchor="middle" fill="#111" >E</text>
<text x="151.8" y="385.9" font-size="9.90" font-weight="bold" text-anchor="middle" fill="#111" >M</text>
<text x="163.4" y="385.9" font-size="9.90" font-weight="bold" text-anchor="middle" fill="#111" >E</text>
<text x="175.0" y="385.9" font-size="9.90" font-weight="bold" text-anchor="middle" fill="#111" >Q</text>
<text x="186.6" y="385.9" font-size="9.90" font-weight="bold" text-anchor="middle" fill="#111" >A</text>
<text x="198.1" y="385.9" font-size="9.90" font-weight="bold" text-anchor="middle" fill="#111" >K</text>
<text x="209.7" y="385.9" font-size="9.90" font-weight="bold" text-anchor="middle" fill="#111" >R</text>
<text x="221.3" y="385.9" font-size="9.90" font-weight="bold" text-anchor="middle" fill="#111" >N</text>
<text x="232.9" y="385.9" font-size="9.90" font-weight="bold" text-anchor="middle" fill="#111" >H</text>
<text x="244.5" y="385.9" font-size="9.90" font-weight="bold" text-anchor="middle" fill="#111" >L</text>
<text x="256.0" y="385.9" font-size="9.90" font-weight="bold" text-anchor="middle" fill="#111" >R</text>
<text x="267.6" y="385.9" font-size="9.90" font-weight="bold" text-anchor="middle" fill="#111" >V</text>
<text x="276.3" y="385.9" font-size="9.70" font-weight="bold" text-anchor="start" fill="#3b7cc4" >104</text>
<text x="28.4" y="398.3" font-size="9.90" font-weight="bold" text-anchor="middle" fill="#3b7cc4" >161</text>
<text x="47.6" y="398.3" font-size="9.90" font-weight="bold" text-anchor="middle" fill="#111" >V</text>
<text x="59.2" y="398.3" font-size="9.90" font-weight="bold" text-anchor="middle" fill="#111" >D</text>
<text x="70.8" y="398.3" font-size="9.90" font-weight="bold" text-anchor="middle" fill="#111" >S</text>
<text x="82.3" y="398.3" font-size="9.90" font-weight="bold" text-anchor="middle" fill="#111" >L</text>
<text x="93.9" y="398.3" font-size="9.90" font-weight="bold" text-anchor="middle" fill="#111" >Q</text>
<text x="105.5" y="398.3" font-size="9.90" font-weight="bold" text-anchor="middle" fill="#111" >T</text>
<text x="117.1" y="398.3" font-size="9.90" font-weight="bold" text-anchor="middle" fill="#111" >S</text>
<text x="128.7" y="398.3" font-size="9.90" font-weight="bold" text-anchor="middle" fill="#111" >L</text>
<text x="140.2" y="398.3" font-size="9.90" font-weight="bold" text-anchor="middle" fill="#111" >D</text>
<text x="151.8" y="398.3" font-size="9.90" font-weight="bold" text-anchor="middle" fill="#111" >A</text>
<text x="163.4" y="398.3" font-size="9.90" font-weight="bold" text-anchor="middle" fill="#111" >E</text>
<text x="175.0" y="398.3" font-size="9.90" font-weight="bold" text-anchor="middle" fill="#111" >T</text>
<text x="186.6" y="398.3" font-size="9.90" font-weight="bold" text-anchor="middle" fill="#111" >R</text>
<text x="198.1" y="398.3" font-size="9.90" font-weight="bold" text-anchor="middle" fill="#111" >S</text>
<text x="209.7" y="398.3" font-size="9.90" font-weight="bold" text-anchor="middle" fill="#111" >R</text>
<text x="221.3" y="398.3" font-size="9.90" font-weight="bold" text-anchor="middle" fill="#111" >N</text>
<text x="232.9" y="398.3" font-size="9.90" font-weight="bold" text-anchor="middle" fill="#111" >E</text>
<text x="244.5" y="398.3" font-size="9.90" font-weight="bold" text-anchor="middle" fill="#111" >A</text>
<text x="256.0" y="398.3" font-size="9.90" font-weight="bold" text-anchor="middle" fill="#111" >L</text>
<text x="267.6" y="398.3" font-size="9.90" font-weight="bold" text-anchor="middle" fill="#111" >R</text>
<text x="276.3" y="398.3" font-size="9.70" font-weight="bold" text-anchor="start" fill="#3b7cc4" >84</text>
<text x="28.4" y="410.8" font-size="9.90" font-weight="bold" text-anchor="middle" fill="#3b7cc4" >181</text>
<text x="47.6" y="410.8" font-size="9.90" font-weight="bold" text-anchor="middle" fill="#111" >V</text>
<text x="59.2" y="410.8" font-size="9.90" font-weight="bold" text-anchor="middle" fill="#111" >K</text>
<text x="70.8" y="410.8" font-size="9.90" font-weight="bold" text-anchor="middle" fill="#111" >K</text>
<text x="82.3" y="410.8" font-size="9.90" font-weight="bold" text-anchor="middle" fill="#111" >K</text>
<text x="93.9" y="410.8" font-size="9.90" font-weight="bold" text-anchor="middle" fill="#111" >M</text>
<text x="105.5" y="410.8" font-size="9.90" font-weight="bold" text-anchor="middle" fill="#111" >E</text>
<text x="117.1" y="410.8" font-size="9.90" font-weight="bold" text-anchor="middle" fill="#111" >G</text>
<text x="128.7" y="410.8" font-size="9.90" font-weight="bold" text-anchor="middle" fill="#111" >D</text>
<text x="140.2" y="410.8" font-size="9.90" font-weight="bold" text-anchor="middle" fill="#111" >L</text>
<text x="151.8" y="410.8" font-size="9.90" font-weight="bold" text-anchor="middle" fill="#111" >N</text>
<text x="163.4" y="410.8" font-size="9.90" font-weight="bold" text-anchor="middle" fill="#111" >E</text>
<text x="175.0" y="410.8" font-size="9.90" font-weight="bold" text-anchor="middle" fill="#111" >M</text>
<text x="186.6" y="410.8" font-size="9.90" font-weight="bold" text-anchor="middle" fill="#111" >E</text>
<text x="198.1" y="410.8" font-size="9.90" font-weight="bold" text-anchor="middle" fill="#111" >I</text>
<text x="209.7" y="410.8" font-size="9.90" font-weight="bold" text-anchor="middle" fill="#111" >Q</text>
<text x="221.3" y="410.8" font-size="9.90" font-weight="bold" text-anchor="middle" fill="#111" >L</text>
<text x="232.9" y="410.8" font-size="9.90" font-weight="bold" text-anchor="middle" fill="#111" >S</text>
<text x="244.5" y="410.8" font-size="9.90" font-weight="bold" text-anchor="middle" fill="#111" >H</text>
<text x="256.0" y="410.8" font-size="9.90" font-weight="bold" text-anchor="middle" fill="#111" >A</text>
<text x="267.6" y="410.8" font-size="9.90" font-weight="bold" text-anchor="middle" fill="#111" >N</text>
<text x="276.3" y="410.8" font-size="9.70" font-weight="bold" text-anchor="start" fill="#3b7cc4" >64</text>
<text x="28.4" y="423.3" font-size="9.90" font-weight="bold" text-anchor="middle" fill="#3b7cc4" >201</text>
<text x="47.6" y="423.3" font-size="9.90" font-weight="bold" text-anchor="middle" fill="#111" >R</text>
<text x="59.2" y="423.3" font-size="9.90" font-weight="bold" text-anchor="middle" fill="#111" >M</text>
<text x="70.8" y="423.3" font-size="9.90" font-weight="bold" text-anchor="middle" fill="#111" >A</text>
<text x="82.3" y="423.3" font-size="9.90" font-weight="bold" text-anchor="middle" fill="#111" >A</text>
<text x="93.9" y="423.3" font-size="9.90" font-weight="bold" text-anchor="middle" fill="#111" >E</text>
<text x="105.5" y="423.3" font-size="9.90" font-weight="bold" text-anchor="middle" fill="#111" >A</text>
<text x="117.1" y="423.3" font-size="9.90" font-weight="bold" text-anchor="middle" fill="#111" >Q</text>
<text x="128.7" y="423.3" font-size="9.90" font-weight="bold" text-anchor="middle" fill="#111" >K</text>
<text x="140.2" y="423.3" font-size="9.90" font-weight="bold" text-anchor="middle" fill="#111" >Q</text>
<text x="151.8" y="423.3" font-size="9.90" font-weight="bold" text-anchor="middle" fill="#111" >V</text>
<text x="163.4" y="423.3" font-size="9.90" font-weight="bold" text-anchor="middle" fill="#111" >K</text>
<text x="175.0" y="423.3" font-size="9.90" font-weight="bold" text-anchor="middle" fill="#111" >S</text>
<text x="186.6" y="423.3" font-size="9.90" font-weight="bold" text-anchor="middle" fill="#111" >L</text>
<text x="198.1" y="423.3" font-size="9.90" font-weight="bold" text-anchor="middle" fill="#111" >Q</text>
<text x="209.7" y="423.3" font-size="9.90" font-weight="bold" text-anchor="middle" fill="#111" >S</text>
<text x="221.3" y="423.3" font-size="9.90" font-weight="bold" text-anchor="middle" fill="#111" >L</text>
<text x="232.9" y="423.3" font-size="9.90" font-weight="bold" text-anchor="middle" fill="#111" >L</text>
<text x="244.5" y="423.3" font-size="9.90" font-weight="bold" text-anchor="middle" fill="#111" >K</text>
<text x="256.0" y="423.3" font-size="9.90" font-weight="bold" text-anchor="middle" fill="#111" >D</text>
<text x="267.6" y="423.3" font-size="9.90" font-weight="bold" text-anchor="middle" fill="#111" >T</text>
<text x="276.3" y="423.3" font-size="9.70" font-weight="bold" text-anchor="start" fill="#3b7cc4" >44</text>
<text x="28.4" y="435.8" font-size="9.90" font-weight="bold" text-anchor="middle" fill="#3b7cc4" >221</text>
<text x="47.6" y="435.8" font-size="9.90" font-weight="bold" text-anchor="middle" fill="#111" >Q</text>
<text x="59.2" y="435.8" font-size="9.90" font-weight="bold" text-anchor="middle" fill="#111" >I</text>
<text x="70.8" y="435.8" font-size="9.90" font-weight="bold" text-anchor="middle" fill="#111" >Q</text>
<text x="82.3" y="435.8" font-size="9.90" font-weight="bold" text-anchor="middle" fill="#111" >L</text>
<text x="93.9" y="435.8" font-size="9.90" font-weight="bold" text-anchor="middle" fill="#111" >D</text>
<text x="105.5" y="435.8" font-size="9.90" font-weight="bold" text-anchor="middle" fill="#111" >D</text>
<text x="117.1" y="435.8" font-size="9.90" font-weight="bold" text-anchor="middle" fill="#111" >A</text>
<text x="128.7" y="435.8" font-size="9.90" font-weight="bold" text-anchor="middle" fill="#111" >V</text>
<text x="140.2" y="435.8" font-size="9.90" font-weight="bold" text-anchor="middle" fill="#111" >R</text>
<text x="151.8" y="435.8" font-size="9.90" font-weight="bold" text-anchor="middle" fill="#111" >A</text>
<text x="163.4" y="435.8" font-size="9.90" font-weight="bold" text-anchor="middle" fill="#111" >N</text>
<text x="175.0" y="435.8" font-size="9.90" font-weight="bold" text-anchor="middle" fill="#111" >D</text>
<text x="186.6" y="435.8" font-size="9.90" font-weight="bold" text-anchor="middle" fill="#111" >D</text>
<text x="198.1" y="435.8" font-size="9.90" font-weight="bold" text-anchor="middle" fill="#111" >L</text>
<text x="209.7" y="435.8" font-size="9.90" font-weight="bold" text-anchor="middle" fill="#111" >K</text>
<text x="221.3" y="435.8" font-size="9.90" font-weight="bold" text-anchor="middle" fill="#111" >E</text>
<text x="232.9" y="435.8" font-size="9.90" font-weight="bold" text-anchor="middle" fill="#111" >N</text>
<text x="244.5" y="435.8" font-size="9.90" font-weight="bold" text-anchor="middle" fill="#111" >I</text>
<text x="256.0" y="435.8" font-size="9.90" font-weight="bold" text-anchor="middle" fill="#111" >A</text>
<text x="267.6" y="435.8" font-size="9.90" font-weight="bold" text-anchor="middle" fill="#111" >I</text>
<text x="276.3" y="435.8" font-size="9.70" font-weight="bold" text-anchor="start" fill="#3b7cc4" >24</text>
<text x="28.4" y="448.3" font-size="9.90" font-weight="bold" text-anchor="middle" fill="#3b7cc4" >241</text>
<text x="47.6" y="448.3" font-size="9.90" font-weight="bold" text-anchor="middle" fill="#111" >V</text>
<text x="59.2" y="448.3" font-size="9.90" font-weight="bold" text-anchor="middle" fill="#111" >E</text>
<text x="70.8" y="448.3" font-size="9.90" font-weight="bold" text-anchor="middle" fill="#111" >R</text>
<text x="82.3" y="448.3" font-size="9.90" font-weight="bold" text-anchor="middle" fill="#111" >R</text>
<text x="93.9" y="448.3" font-size="9.90" font-weight="bold" text-anchor="middle" fill="#111" >N</text>
<text x="105.5" y="448.3" font-size="9.90" font-weight="bold" text-anchor="middle" fill="#111" >N</text>
<text x="117.1" y="448.3" font-size="9.90" font-weight="bold" text-anchor="middle" fill="#111" >L</text>
<text x="128.7" y="448.3" font-size="9.90" font-weight="bold" text-anchor="middle" fill="#111" >L</text>
<text x="140.2" y="448.3" font-size="9.90" font-weight="bold" text-anchor="middle" fill="#111" >Q</text>
<text x="151.8" y="448.3" font-size="9.90" font-weight="bold" text-anchor="middle" fill="#111" >A</text>
<text x="163.4" y="448.3" font-size="9.90" font-weight="bold" text-anchor="middle" fill="#111" >E</text>
<text x="175.0" y="448.3" font-size="9.90" font-weight="bold" text-anchor="middle" fill="#111" >L</text>
<text x="186.6" y="448.3" font-size="9.90" font-weight="bold" text-anchor="middle" fill="#111" >E</text>
<text x="198.1" y="448.3" font-size="9.90" font-weight="bold" text-anchor="middle" fill="#111" >E</text>
<text x="209.7" y="448.3" font-size="9.90" font-weight="bold" text-anchor="middle" fill="#111" >L</text>
<text x="221.3" y="448.3" font-size="9.90" font-weight="bold" text-anchor="middle" fill="#111" >R</text>
<text x="232.9" y="448.3" font-size="9.90" font-weight="bold" text-anchor="middle" fill="#111" >A</text>
<text x="244.5" y="448.3" font-size="9.90" font-weight="bold" text-anchor="middle" fill="#111" >V</text>
<text x="256.0" y="448.3" font-size="9.90" font-weight="bold" text-anchor="middle" fill="#111" >V</text>
<text x="267.6" y="448.3" font-size="9.90" font-weight="bold" text-anchor="middle" fill="#111" >E</text>
<text x="276.3" y="448.3" font-size="9.70" font-weight="bold" text-anchor="start" fill="#3b7cc4" >4</text>
<text x="28.4" y="460.7" font-size="9.90" font-weight="bold" text-anchor="middle" fill="#3b7cc4" >261</text>
<text x="47.6" y="460.7" font-size="9.90" font-weight="bold" text-anchor="middle" fill="#111" >Q</text>
<text x="59.2" y="460.7" font-size="9.90" font-weight="bold" text-anchor="middle" fill="#111" >T</text>
<text x="70.8" y="460.7" font-size="9.90" font-weight="bold" text-anchor="middle" fill="#111" >E</text>
<text x="276.3" y="460.7" font-size="9.70" font-weight="bold" text-anchor="start" fill="#3b7cc4" >1</text>
<path d="M119.77,287.50 L123.17,288.70 L123.17,298.10 M142.93,287.50 L146.33,288.70 L146.33,298.10 M154.51,287.50 L157.91,288.70 L157.91,298.10 M166.09,287.50 L169.49,288.70 L169.49,298.10 M177.67,287.50 L181.07,288.70 L181.07,298.10 M189.25,287.50 L192.65,288.70 L192.65,298.10 M200.83,287.50 L204.23,288.70 L204.23,298.10 M212.41,287.50 L215.81,288.70 L215.81,298.10 M223.99,287.50 L227.39,288.70 L227.39,298.10 M235.57,287.50 L238.97,288.70 L238.97,298.10 M258.73,287.50 L262.13,288.70 L262.13,298.10 M270.31,287.50 L273.71,288.70 L273.71,298.10 M61.87,299.98 L65.27,301.18 L65.27,310.58 M73.45,299.98 L76.85,301.18 L76.85,310.58 M85.03,299.98 L88.43,301.18 L88.43,310.58 M96.61,299.98 L100.01,301.18 L100.01,310.58 M119.77,299.98 L123.17,301.18 L123.17,310.58 M131.35,299.98 L134.75,301.18 L134.75,310.58 M142.93,299.98 L146.33,301.18 L146.33,310.58 M154.51,299.98 L157.91,301.18 L157.91,310.58 M166.09,299.98 L169.49,301.18 L169.49,310.58 M177.67,299.98 L181.07,301.18 L181.07,310.58 M189.25,299.98 L192.65,301.18 L192.65,310.58 M212.41,299.98 L215.81,301.18 L215.81,310.58 M223.99,299.98 L227.39,301.18 L227.39,310.58 M235.57,299.98 L238.97,301.18 L238.97,310.58 M247.15,299.98 L250.55,301.18 L250.55,310.58 M258.73,299.98 L262.13,301.18 L262.13,310.58 M108.19,312.46 L111.59,313.66 L111.59,323.06 M119.77,312.46 L123.17,313.66 L123.17,323.06 M131.35,312.46 L134.75,313.66 L134.75,323.06 M142.93,312.46 L146.33,313.66 L146.33,323.06 M177.67,312.46 L181.07,313.66 L181.07,323.06 M189.25,312.46 L192.65,313.66 L192.65,323.06 M223.99,312.46 L227.39,313.66 L227.39,323.06 M73.45,324.94 L76.85,326.14 L76.85,335.54 M131.35,324.94 L134.75,326.14 L134.75,335.54 M166.09,324.94 L169.49,326.14 L169.49,335.54 M50.29,337.42 L53.69,338.62 L53.69,348.02 M96.61,337.42 L100.01,338.62 L100.01,348.02 M119.77,337.42 L123.17,338.62 L123.17,348.02 M189.25,337.42 L192.65,338.62 L192.65,348.02 M154.51,362.38 L157.91,363.58 L157.91,372.98 M204.13,391.14 L204.13,399.74 L207.73,400.94 M76.75,403.62 L76.75,412.22 L80.35,413.42 M204.13,403.62 L204.13,412.22 L207.73,413.42 M42.01,416.10 L42.01,424.70 L45.61,425.90 M123.07,416.10 L123.07,424.70 L126.67,425.90 M146.23,416.10 L146.23,424.70 L149.83,425.90 M169.39,416.10 L169.39,424.70 L172.99,425.90 M250.45,416.10 L250.45,424.70 L254.05,425.90 M262.03,416.10 L262.03,424.70 L265.63,425.90 M42.01,428.58 L42.01,437.18 L45.61,438.38 M99.91,428.58 L99.91,437.18 L103.51,438.38 M157.81,428.58 L157.81,437.18 L161.41,438.38 M169.39,428.58 L169.39,437.18 L172.99,438.38 M180.97,428.58 L180.97,437.18 L184.57,438.38 M204.13,428.58 L204.13,437.18 L207.73,438.38 M53.59,441.06 L53.59,449.66 L57.19,450.86 M65.17,441.06 L65.17,449.66 L68.77,450.86 M76.75,441.06 L76.75,449.66 L80.35,450.86 " stroke="#dd3340" stroke-width="1.25" fill="none" stroke-linejoin="miter"/>
<text x="182.0" y="472.8" font-size="7.60" font-weight="bold" text-anchor="start" fill="#222" textLength="61.4" lengthAdjust="spacingAndGlyphs">--CO--NH--CHR--</text>
<text x="248.9" y="472.8" font-size="8.20" font-weight="bold" text-anchor="start" fill="#e0262a" textLength="15" lengthAdjust="spacingAndGlyphs">ECD</text>
<text x="213.4" y="459.4" font-size="7.50" font-weight="bold" text-anchor="start" fill="#333" style="font-family:Liberation Serif,serif">c</text>
<text x="215.8" y="487.0" font-size="7.50" font-weight="bold" text-anchor="start" fill="#333" style="font-family:Liberation Serif,serif">z</text>
<circle cx="220.3" cy="482.9" r="0.6" fill="#333"/>
<path d="M216.8,459.4 H236.3 M217.5,481.5 H238" stroke="#555" stroke-width="0.8" fill="none"/>
<path d="M215.1,458.7 Q217.3,459.3 217.3,461.5 V478.8 Q217.3,481.2 215.9,481.6" stroke="#dc2a36" stroke-width="1.1" fill="none"/>
<path d="M237.5,459.4 H244.5 Q248.5,459.8 252,464.2 M238,481.5 H245.5 Q249,481.2 252,475.4" stroke="#dc2a36" stroke-width="1.1" fill="none"/>
<path d="M234.6,459.4 l3.4,-1.5 v3 z M235.3,481.5 l3.4,-1.5 v3 z" fill="#dc2a36"/>
<path d="M300.8,322.6 L300.8,310.5 L301.4,317.7 L302.0,309.8 L302.6,321.6 L303.2,308.2 L303.9,322.1 L304.3,314.2 L305.1,318.9 L305.4,303.2 L306.2,319.1 L306.8,313.6 L307.2,319.8 L307.6,313.3 L308.0,322.4 L308.6,310.6 L309.3,319.9 L310.0,309.9 L310.6,320.2 L311.1,302.9 L311.9,318.2 L312.6,312.1 L313.0,321.1 L313.4,306.3 L313.9,318.1 L314.4,303.5 L315.2,322.6 L315.6,304.2 L316.2,317.4 L316.7,314.3 L317.3,318.5 L317.8,314.2 L318.3,317.5 L319.0,313.9 L319.5,322.1 L319.8,305.9 L320.3,319.6 L320.8,313.3 L321.5,321.9 L322.1,314.0 L322.7,321.5 L323.2,303.3 L323.9,321.0 L324.6,313.1 L325.1,318.1 L325.8,314.1 L326.6,321.5 L327.0,306.2 L327.5,321.0 L327.9,314.2 L328.5,321.3 L329.2,311.4 L329.7,317.5 L330.3,308.9 L331.0,321.6 L331.4,304.3 L332.2,321.3 L332.6,306.7 L333.4,321.6 L334.1,304.7 L334.8,320.4 L335.2,314.5 L335.9,321.3 L336.6,312.7 L337.3,319.5 L337.8,313.5 L338.5,322.2 L338.9,309.1 L339.7,319.4 L340.1,304.1 L340.6,322.5 L341.1,310.6 L341.4,321.7 L342.0,309.0 L342.4,320.7 L343.1,303.2 L343.8,319.0 L344.4,313.8 L344.7,322.5 L345.5,307.2 L346.3,322.5 L346.9,310.1 L347.6,320.9 L348.4,314.3 L349.0,318.7 L349.7,306.7 L350.4,318.4 L351.2,311.6 L351.8,317.8 L352.6,310.9 L353.3,318.0 L353.9,308.3 L354.4,319.5 L355.0,314.2 L355.7,317.4 L356.4,306.9 L356.9,318.7 L357.6,310.6 L358.3,322.2 L359.0,314.6 L359.6,320.1 L360.0,307.3 L360.6,319.4 L361.4,312.7 L361.7,321.0 L362.4,313.2 L362.8,317.8 L363.5,310.6 L364.2,320.9 L364.9,313.2 L365.4,318.3 L366.2,304.7 L366.7,319.5 L367.2,313.8 L367.8,318.2 L368.5,307.1 L369.3,321.1 L369.7,310.5 L370.2,321.5 L370.7,308.3 L371.3,320.9 L372.0,303.2 L372.6,322.2 L372.9,304.8 L373.3,318.9 L373.9,312.1 L374.6,322.5 L375.0,310.4 L375.4,318.2 L375.8,313.8 L376.2,319.3 L376.8,308.2 L377.4,318.3 L378.2,307.5 L378.6,320.1 L379.1,314.6 L379.6,318.8 L380.0,312.5 L380.5,318.9 L381.1,308.4 L381.8,320.5 L382.5,304.3 L382.9,317.7 L383.6,313.8 L384.1,319.3 L384.9,311.4 L385.5,318.0 L386.2,303.7 L386.8,319.2 L387.2,307.0 L387.9,319.2 L388.6,313.1 L389.4,317.4 L390.2,309.4 L390.9,320.9 L391.6,305.0 L392.1,322.2 L392.7,309.3 L393.4,320.0 L393.7,305.7 L394.1,318.4 L394.5,311.8 L395.2,321.9 L395.7,309.7 L396.3,318.2 L397.0,303.7 L397.6,317.6 L398.0,313.0 L398.5,321.1 L399.2,308.1 L399.8,318.1 L400.4,312.1 L400.9,318.1 L401.7,313.1 L402.4,317.5 L403.0,309.0 L403.5,319.8 L404.0,308.5 L404.4,317.5 L405.0,311.1 L405.7,319.6 L406.3,307.4 L406.6,319.8 L407.2,303.5 L407.9,321.2 L408.5,313.9 L409.0,318.3 L409.8,310.2 L410.3,321.6 L410.9,304.0 L411.3,318.5 L411.7,313.3 L412.1,319.0 L412.6,311.6 L413.3,322.0 L413.9,313.9 L414.5,321.3 L415.0,309.5 L415.5,320.6 L416.0,309.5 L416.5,321.5 L417.1,308.1 L417.7,318.1 L418.3,305.0 L418.8,318.7 L419.5,304.4 " stroke="#111" stroke-width="1.25" fill="none" stroke-linejoin="round"/>
<path d="M318.3,318.6 L318.9,299.8 L319.5,318.6" stroke="#111" stroke-width="1.1" fill="none"/>
<path d="M324.4,318.6 L325.0,301.0 L325.6,318.6" stroke="#111" stroke-width="1.1" fill="none"/>
<path d="M339.1,318.6 L339.7,299.8 L340.3,318.6" stroke="#111" stroke-width="1.1" fill="none"/>
<path d="M352.4,318.6 L353.0,302.0 L353.6,318.6" stroke="#111" stroke-width="1.1" fill="none"/>
<path d="M364.1,318.6 L364.7,299.8 L365.3,318.6" stroke="#111" stroke-width="1.1" fill="none"/>
<path d="M377.7,318.6 L378.3,299.0 L378.9,318.6" stroke="#111" stroke-width="1.1" fill="none"/>
<path d="M382.9,318.6 L383.5,303.0 L384.1,318.6" stroke="#111" stroke-width="1.1" fill="none"/>
<path d="M397.4,318.6 L398.0,290.4 L398.6,318.6" stroke="#111" stroke-width="1.1" fill="none"/>
<path d="M406.9,318.6 L407.5,296.7 L408.1,318.6" stroke="#111" stroke-width="1.1" fill="none"/>
<path d="M413.2,318.6 L413.8,299.0 L414.4,318.6" stroke="#111" stroke-width="1.1" fill="none"/>
<path d="M305.9,320.6 L306.5,260.9 L307.3,260.9 L307.9,320.6 Z" stroke="#111" stroke-width="0.6" fill="#111" stroke-linejoin="round"/>
<path d="M319.4,320.6 L320.0,218.5 L320.8,218.5 L321.4,320.6 Z" stroke="#111" stroke-width="0.6" fill="#111" stroke-linejoin="round"/>
<path d="M332.7,320.6 L333.3,221.3 L334.1,221.3 L334.7,320.6 Z" stroke="#111" stroke-width="0.6" fill="#111" stroke-linejoin="round"/>
<path d="M345.7,320.6 L346.3,263.7 L347.1,263.7 L347.7,320.6 Z" stroke="#111" stroke-width="0.6" fill="#111" stroke-linejoin="round"/>
<path d="M359.0,320.6 L359.6,285.7 L360.4,285.7 L361.0,320.6 Z" stroke="#111" stroke-width="0.6" fill="#111" stroke-linejoin="round"/>
<line x1="300.6" y1="324.0" x2="420.7" y2="324.0" stroke="#111" stroke-width="1.6"/>
<circle cx="306.9" cy="267.2" r="2.35" fill="none" stroke="#dc2a36" stroke-width="1.45"/>
<circle cx="320.4" cy="218.4" r="2.35" fill="none" stroke="#dc2a36" stroke-width="1.45"/>
<circle cx="333.7" cy="220.6" r="2.35" fill="none" stroke="#dc2a36" stroke-width="1.45"/>
<circle cx="346.7" cy="252.8" r="2.35" fill="none" stroke="#dc2a36" stroke-width="1.45"/>
<circle cx="360.0" cy="285.3" r="2.35" fill="none" stroke="#dc2a36" stroke-width="1.45"/>
<circle cx="372.7" cy="306.5" r="2.35" fill="none" stroke="#dc2a36" stroke-width="1.45"/>
<circle cx="386.5" cy="318.5" r="2.35" fill="none" stroke="#dc2a36" stroke-width="1.45"/>
<circle cx="399.5" cy="321.5" r="2.35" fill="none" stroke="#dc2a36" stroke-width="1.45"/>
<circle cx="412.2" cy="323.4" r="2.35" fill="none" stroke="#dc2a36" stroke-width="1.45"/>
<text x="313.3" y="335.5" font-size="10.00" font-weight="normal" text-anchor="middle" fill="#222" >823.8</text>
<text x="341.2" y="335.5" font-size="10.00" font-weight="normal" text-anchor="middle" fill="#222" font-style="italic">m/z</text>
<text x="365.6" y="335.5" font-size="10.00" font-weight="normal" text-anchor="middle" fill="#222" >824.8</text>
<text x="417.8" y="335.5" font-size="10.00" font-weight="normal" text-anchor="middle" fill="#222" >825.8</text>
<path d="M456.3,322.8 L456.3,313.9 L457.1,321.8 L457.9,307.6 L458.3,321.7 L459.0,314.4 L459.3,319.1 L459.9,308.8 L460.3,321.0 L461.0,316.1 L461.4,319.8 L462.2,306.6 L462.6,320.6 L463.2,312.1 L463.9,322.0 L464.3,315.6 L464.7,320.4 L465.2,311.4 L465.6,322.0 L466.1,308.2 L466.9,318.7 L467.3,315.9 L468.1,320.7 L468.8,313.8 L469.3,320.5 L469.9,311.0 L470.2,319.7 L470.9,315.1 L471.5,319.5 L472.0,315.0 L472.5,320.5 L472.8,307.6 L473.5,319.7 L474.3,310.7 L474.8,320.1 L475.4,306.4 L476.1,321.7 L476.8,309.4 L477.5,319.2 L478.1,307.5 L478.8,319.7 L479.5,309.1 L480.0,319.6 L480.4,313.7 L481.0,322.8 L481.5,310.6 L482.1,321.8 L482.9,310.3 L483.4,319.9 L484.0,311.8 L484.5,318.4 L485.2,309.9 L485.9,318.4 L486.2,310.9 L486.9,321.7 L487.4,315.9 L487.9,321.1 L488.3,314.5 L489.0,320.4 L489.6,306.6 L490.2,318.4 L490.9,308.6 L491.2,320.1 L491.9,316.0 L492.7,322.1 L493.3,315.2 L493.8,320.1 L494.2,306.9 L494.7,320.5 L495.4,313.5 L495.8,319.9 L496.4,314.2 L497.1,321.5 L497.5,314.5 L497.8,322.1 L498.5,313.2 L499.3,319.5 L499.7,306.4 L500.4,322.5 L501.2,312.8 L501.8,318.5 L502.2,311.9 L503.0,319.6 L503.6,306.5 L504.3,320.1 L504.7,310.8 L505.2,321.9 L505.6,311.8 L506.0,320.8 L506.7,312.6 L507.1,320.2 L507.7,309.0 L508.3,318.4 L509.0,309.5 L509.5,322.3 L510.2,308.9 L510.9,321.2 L511.3,310.1 L511.9,320.2 L512.6,309.3 L513.0,321.7 L513.8,307.3 L514.6,322.6 L514.9,314.3 L515.5,320.0 L515.9,311.7 L516.3,322.4 L516.9,311.6 L517.5,321.1 L518.1,314.8 L518.6,319.5 L519.3,315.8 L519.7,319.2 L520.4,309.1 L520.8,320.9 L521.3,308.6 L521.8,319.9 L522.6,313.8 L523.2,319.5 L524.0,312.9 L524.5,322.4 L525.2,315.8 L525.6,320.3 L526.2,310.1 L526.7,319.4 L527.0,314.8 L527.7,322.4 L528.2,309.6 L528.8,321.5 L529.3,313.5 L529.9,321.2 L530.3,309.8 L530.9,318.7 L531.7,307.3 L532.3,319.2 L532.7,313.9 L533.3,318.7 L534.0,314.5 L534.5,321.2 L535.1,313.2 L535.6,321.9 L536.2,308.8 L536.8,319.1 L537.4,315.1 L538.1,318.9 L538.5,316.1 L539.1,320.4 L539.7,306.7 L540.4,319.2 L540.8,311.6 L541.5,322.4 L541.8,309.5 L542.6,322.4 L543.2,315.3 L543.9,319.9 L544.4,314.8 L545.1,320.5 L545.8,313.2 L546.3,318.5 L546.9,312.2 L547.5,319.6 L548.2,307.3 L548.7,319.1 L549.4,308.1 L550.1,319.1 L550.8,306.8 L551.5,320.5 L552.1,308.7 L552.7,320.9 L553.1,309.4 L553.9,321.1 L554.3,314.9 L554.9,321.5 L555.6,315.9 L556.1,322.3 L556.8,309.0 L557.2,322.5 L557.8,311.2 L558.5,322.6 L558.9,315.0 L559.4,321.8 L560.0,311.1 L560.5,322.0 " stroke="#111" stroke-width="1.25" fill="none" stroke-linejoin="round"/>
<path d="M465.4,318.8 L466.0,300.0 L466.6,318.8" stroke="#111" stroke-width="1.1" fill="none"/>
<path d="M490.4,318.8 L491.0,303.0 L491.6,318.8" stroke="#111" stroke-width="1.1" fill="none"/>
<path d="M499.4,318.8 L500.0,300.0 L500.6,318.8" stroke="#111" stroke-width="1.1" fill="none"/>
<path d="M509.4,318.8 L510.0,298.0 L510.6,318.8" stroke="#111" stroke-width="1.1" fill="none"/>
<path d="M519.4,318.8 L520.0,300.0 L520.6,318.8" stroke="#111" stroke-width="1.1" fill="none"/>
<path d="M527.4,318.8 L528.0,299.0 L528.6,318.8" stroke="#111" stroke-width="1.1" fill="none"/>
<path d="M535.4,318.8 L536.0,301.0 L536.6,318.8" stroke="#111" stroke-width="1.1" fill="none"/>
<path d="M544.4,318.8 L545.0,303.0 L545.6,318.8" stroke="#111" stroke-width="1.1" fill="none"/>
<path d="M552.4,318.8 L553.0,302.0 L553.6,318.8" stroke="#111" stroke-width="1.1" fill="none"/>
<path d="M460.1,320.8 L460.7,295.6 L461.5,295.6 L462.1,320.8 Z" stroke="#111" stroke-width="0.6" fill="#111" stroke-linejoin="round"/>
<path d="M468.9,320.8 L469.5,260.3 L470.3,260.3 L470.9,320.8 Z" stroke="#111" stroke-width="0.6" fill="#111" stroke-linejoin="round"/>
<path d="M477.9,320.8 L478.5,225.0 L479.3,225.0 L479.9,320.8 Z" stroke="#111" stroke-width="0.6" fill="#111" stroke-linejoin="round"/>
<path d="M486.9,320.8 L487.5,215.1 L488.3,215.1 L488.9,320.8 Z" stroke="#111" stroke-width="0.6" fill="#111" stroke-linejoin="round"/>
<path d="M495.7,320.8 L496.3,264.5 L497.1,264.5 L497.7,320.8 Z" stroke="#111" stroke-width="0.6" fill="#111" stroke-linejoin="round"/>
<path d="M504.2,320.8 L504.8,292.8 L505.6,292.8 L506.2,320.8 Z" stroke="#111" stroke-width="0.6" fill="#111" stroke-linejoin="round"/>
<path d="M513.2,320.8 L513.8,290.0 L514.6,290.0 L515.2,320.8 Z" stroke="#111" stroke-width="0.6" fill="#111" stroke-linejoin="round"/>
<line x1="447.8" y1="324.3" x2="567.8" y2="324.3" stroke="#111" stroke-width="1.6"/>
<circle cx="461.1" cy="301.7" r="2.35" fill="none" stroke="#dc2a36" stroke-width="1.45"/>
<circle cx="469.9" cy="258.7" r="2.35" fill="none" stroke="#dc2a36" stroke-width="1.45"/>
<circle cx="478.9" cy="223.2" r="2.35" fill="none" stroke="#dc2a36" stroke-width="1.45"/>
<circle cx="486.8" cy="211.9" r="2.35" fill="none" stroke="#dc2a36" stroke-width="1.45"/>
<circle cx="496.7" cy="234.5" r="2.35" fill="none" stroke="#dc2a36" stroke-width="1.45"/>
<circle cx="505.2" cy="262.1" r="2.35" fill="none" stroke="#dc2a36" stroke-width="1.45"/>
<circle cx="514.2" cy="287.5" r="2.35" fill="none" stroke="#dc2a36" stroke-width="1.45"/>
<circle cx="524.1" cy="306.7" r="2.35" fill="none" stroke="#dc2a36" stroke-width="1.45"/>
<circle cx="550.0" cy="323.7" r="2.35" fill="none" stroke="#dc2a36" stroke-width="1.45"/>
<text x="471.8" y="335.5" font-size="10.00" font-weight="normal" text-anchor="middle" fill="#222" >753.6</text>
<text x="498.6" y="335.5" font-size="10.00" font-weight="normal" text-anchor="middle" fill="#222" font-style="italic">m/z</text>
<text x="534.0" y="335.5" font-size="10.00" font-weight="normal" text-anchor="middle" fill="#222" >754.6</text>
<path d="M298.0,463.9 L298.0,454.6 L298.7,462.2 L299.3,446.6 L299.9,462.5 L300.6,445.2 L301.1,461.0 L301.9,451.2 L302.3,463.6 L303.1,446.9 L303.6,461.1 L304.2,453.6 L305.0,460.4 L305.5,455.8 L306.0,461.9 L306.7,448.1 L307.4,463.1 L307.8,453.1 L308.3,459.2 L308.8,449.2 L309.6,462.5 L310.2,454.8 L310.9,463.9 L311.6,446.2 L312.4,463.5 L312.8,448.1 L313.2,461.3 L313.8,444.5 L314.4,459.3 L314.9,447.0 L315.4,459.0 L315.8,446.5 L316.3,461.0 L316.8,454.8 L317.6,462.2 L318.1,455.4 L318.5,461.4 L319.2,452.7 L319.9,463.3 L320.4,451.5 L321.2,459.4 L321.8,455.8 L322.4,460.1 L322.8,450.1 L323.4,463.8 L324.2,446.9 L324.6,460.6 L325.1,452.5 L325.7,462.3 L326.2,452.3 L326.8,462.5 L327.3,447.9 L327.8,458.8 L328.4,448.0 L328.9,459.5 L329.3,454.9 L329.7,460.3 L330.3,454.6 L330.9,459.4 L331.5,455.3 L331.9,463.1 L332.3,452.1 L332.7,459.0 L333.3,450.8 L333.9,459.8 L334.6,452.4 L335.1,461.7 L335.5,452.2 L336.1,458.6 L336.8,448.9 L337.5,463.8 L338.0,452.9 L338.6,463.3 L339.1,450.9 L339.8,459.5 L340.5,454.8 L341.2,459.1 L341.7,452.8 L342.3,463.1 L343.0,444.1 L343.6,460.1 L344.3,454.4 L345.1,460.5 L345.5,455.4 L346.0,460.8 L346.6,453.0 L347.4,462.0 L348.0,455.0 L348.8,463.2 L349.5,450.4 L350.1,460.9 L350.6,445.2 L351.4,459.5 L352.0,455.1 L352.7,462.4 L353.5,454.0 L354.1,459.4 L354.5,450.4 L354.9,463.7 L355.3,444.1 L356.1,460.4 L356.6,448.7 L357.3,461.9 L357.9,446.8 L358.2,462.8 L358.8,454.9 L359.3,460.8 L359.8,450.7 L360.2,460.8 L360.7,449.1 L361.1,460.3 L361.5,444.5 L362.1,461.4 L362.7,449.4 L363.3,459.8 L364.0,451.2 L364.8,459.4 L365.5,452.1 L366.1,460.9 L366.9,450.6 L367.4,461.6 L368.2,453.1 L368.6,460.0 L369.3,447.9 L369.9,459.9 L370.4,449.8 L370.8,463.2 L371.4,450.9 L371.9,463.6 L372.6,450.6 L373.0,462.3 L373.5,454.0 L373.9,459.0 L374.7,448.8 L375.4,461.6 L376.2,454.2 L376.8,460.9 L377.6,455.3 L378.3,463.2 L378.9,444.6 L379.2,462.6 L379.7,453.1 L380.1,459.1 L380.8,452.2 L381.3,460.8 L381.7,455.7 L382.5,462.2 L383.0,444.9 L383.8,461.4 L384.3,453.4 L385.0,459.1 L385.5,446.3 L386.0,461.4 L386.4,445.7 L387.2,462.8 L387.8,454.4 L388.6,463.6 L389.0,447.9 L389.5,459.1 L390.2,448.1 L390.6,460.2 L391.4,451.7 L391.8,462.7 L392.3,448.2 L392.7,462.9 L393.2,448.8 L393.9,461.9 L394.5,445.6 L395.1,462.7 L395.6,445.0 L396.3,462.4 L396.9,455.3 L397.7,461.5 L398.3,450.6 L398.7,460.7 L399.1,453.9 L399.9,463.4 L400.3,447.5 L400.8,462.4 L401.4,454.5 L402.1,458.6 L402.5,451.5 L403.2,461.8 L404.0,451.0 L404.4,460.9 L405.0,452.7 L405.7,459.7 L406.3,450.9 L407.0,460.2 L407.6,444.6 L408.0,459.7 L408.4,449.6 L408.9,461.5 L409.6,447.1 L410.3,462.6 L410.9,454.2 L411.5,461.2 L411.8,449.7 L412.5,460.8 L413.3,454.6 L413.7,463.8 L414.2,451.8 L414.8,462.5 " stroke="#111" stroke-width="1.25" fill="none" stroke-linejoin="round"/>
<path d="M301.4,459.9 L302.0,440.0 L302.6,459.9" stroke="#111" stroke-width="1.1" fill="none"/>
<path d="M319.4,459.9 L320.0,442.0 L320.6,459.9" stroke="#111" stroke-width="1.1" fill="none"/>
<path d="M332.4,459.9 L333.0,440.0 L333.6,459.9" stroke="#111" stroke-width="1.1" fill="none"/>
<path d="M344.4,459.9 L345.0,438.0 L345.6,459.9" stroke="#111" stroke-width="1.1" fill="none"/>
<path d="M356.4,459.9 L357.0,441.0 L357.6,459.9" stroke="#111" stroke-width="1.1" fill="none"/>
<path d="M369.4,459.9 L370.0,443.0 L370.6,459.9" stroke="#111" stroke-width="1.1" fill="none"/>
<path d="M381.4,459.9 L382.0,441.0 L382.6,459.9" stroke="#111" stroke-width="1.1" fill="none"/>
<path d="M392.4,459.9 L393.0,444.0 L393.6,459.9" stroke="#111" stroke-width="1.1" fill="none"/>
<path d="M404.4,459.9 L405.0,442.0 L405.6,459.9" stroke="#111" stroke-width="1.1" fill="none"/>
<path d="M313.8,461.9 L314.4,397.7 L315.2,397.7 L315.8,461.9 Z" stroke="#111" stroke-width="0.6" fill="#111" stroke-linejoin="round"/>
<path d="M326.0,461.9 L326.6,368.8 L327.4,368.8 L328.0,461.9 Z" stroke="#111" stroke-width="0.6" fill="#111" stroke-linejoin="round"/>
<path d="M338.1,461.9 L338.7,357.6 L339.5,357.6 L340.1,461.9 Z" stroke="#111" stroke-width="0.6" fill="#111" stroke-linejoin="round"/>
<path d="M350.6,461.9 L351.2,387.1 L352.0,387.1 L352.6,461.9 Z" stroke="#111" stroke-width="0.6" fill="#111" stroke-linejoin="round"/>
<path d="M363.1,461.9 L363.7,408.4 L364.5,408.4 L365.1,461.9 Z" stroke="#111" stroke-width="0.6" fill="#111" stroke-linejoin="round"/>
<path d="M375.5,461.9 L376.1,431.2 L376.9,431.2 L377.5,461.9 Z" stroke="#111" stroke-width="0.6" fill="#111" stroke-linejoin="round"/>
<line x1="297.4" y1="465.2" x2="416.7" y2="465.2" stroke="#111" stroke-width="1.6"/>
<circle cx="314.8" cy="418.0" r="2.35" fill="none" stroke="#dc2a36" stroke-width="1.45"/>
<circle cx="327.0" cy="366.9" r="2.35" fill="none" stroke="#dc2a36" stroke-width="1.45"/>
<circle cx="339.7" cy="356.3" r="2.35" fill="none" stroke="#dc2a36" stroke-width="1.45"/>
<circle cx="351.9" cy="380.9" r="2.35" fill="none" stroke="#dc2a36" stroke-width="1.45"/>
<circle cx="364.4" cy="414.0" r="2.35" fill="none" stroke="#dc2a36" stroke-width="1.45"/>
<circle cx="376.5" cy="439.3" r="2.35" fill="none" stroke="#dc2a36" stroke-width="1.45"/>
<circle cx="387.8" cy="453.9" r="2.35" fill="none" stroke="#dc2a36" stroke-width="1.45"/>
<circle cx="400.0" cy="462.1" r="2.35" fill="none" stroke="#dc2a36" stroke-width="1.45"/>
<circle cx="414.3" cy="463.6" r="2.35" fill="none" stroke="#dc2a36" stroke-width="1.45"/>
<text x="317.4" y="478.9" font-size="10.00" font-weight="normal" text-anchor="middle" fill="#222" >1245.3</text>
<text x="351.0" y="478.9" font-size="10.00" font-weight="normal" text-anchor="middle" fill="#222" font-style="italic">m/z</text>
<text x="391.6" y="478.9" font-size="10.00" font-weight="normal" text-anchor="middle" fill="#222" >1247.3</text>
<path d="M449.8,463.6 L449.8,452.8 L450.6,458.2 L451.2,435.3 L451.6,462.2 L452.1,453.2 L452.6,457.7 L453.2,449.6 L453.8,462.8 L454.5,451.3 L455.0,462.1 L455.6,434.0 L456.3,463.0 L456.9,447.3 L457.3,454.4 L457.7,444.2 L458.4,454.3 L458.8,445.1 L459.5,463.2 L459.9,432.0 L460.4,459.9 L460.8,445.9 L461.2,463.3 L462.0,436.2 L462.7,461.4 L463.2,442.5 L463.6,459.2 L464.4,447.3 L464.9,454.3 L465.5,453.2 L466.1,457.4 L466.4,447.8 L467.1,455.4 L467.7,432.1 L468.3,459.9 L469.0,446.9 L469.7,461.6 L470.2,451.1 L470.8,462.0 L471.2,450.6 L471.8,460.7 L472.4,428.4 L473.0,455.4 L473.5,446.9 L473.8,457.0 L474.3,449.4 L474.7,461.9 L475.2,446.7 L475.9,456.8 L476.4,447.4 L476.8,454.7 L477.3,436.1 L478.0,455.0 L478.4,448.3 L478.9,462.8 L479.6,448.2 L480.3,458.7 L480.7,446.6 L481.2,463.2 L481.6,441.3 L482.0,460.6 L482.5,442.7 L482.9,456.9 L483.4,437.4 L484.0,462.2 L484.5,449.2 L485.1,459.8 L485.7,432.8 L486.1,460.8 L486.6,450.5 L487.0,463.4 L487.6,442.1 L488.3,454.4 L488.8,439.0 L489.6,461.6 L490.2,439.2 L491.0,455.4 L491.5,440.2 L491.9,459.5 L492.4,453.0 L492.9,460.5 L493.5,449.2 L493.9,459.8 L494.5,451.4 L495.1,461.3 L495.5,447.9 L496.1,462.2 L496.7,438.1 L497.3,457.0 L497.6,446.7 L498.1,463.0 L498.7,453.1 L499.3,458.0 L499.8,448.2 L500.3,463.4 L500.8,432.0 L501.4,461.1 L502.0,451.1 L502.6,457.8 L503.4,447.4 L504.0,454.7 L504.7,440.3 L505.3,459.7 L505.9,449.3 L506.6,455.3 L507.1,431.3 L507.5,462.3 L508.0,448.6 L508.6,454.3 L509.0,451.0 L509.4,457.2 L509.9,453.5 L510.5,459.9 L510.9,444.1 L511.6,458.4 L512.2,442.2 L512.9,454.4 L513.4,447.8 L514.2,460.6 L514.9,438.3 L515.5,454.5 L516.2,451.6 L516.9,458.9 L517.5,447.2 L517.9,456.5 L518.5,450.1 L519.0,460.5 L519.4,443.5 L519.8,463.0 L520.2,452.5 L520.9,462.5 L521.4,435.9 L522.0,462.1 L522.7,432.7 L523.1,461.2 L523.7,435.1 L524.2,456.8 L524.7,437.7 L525.2,460.4 L525.9,433.6 L526.6,458.2 L527.1,437.9 L527.8,455.7 L528.5,452.1 L529.0,457.3 L529.4,451.1 L529.8,458.0 L530.6,429.2 L531.0,457.1 L531.5,440.2 L532.1,454.8 L532.8,453.1 L533.5,462.5 L533.9,449.1 L534.6,454.2 L535.0,448.1 L535.3,458.5 L535.9,447.1 L536.4,456.0 L537.1,449.2 L537.6,457.7 L538.3,428.9 L538.9,457.0 L539.5,435.0 L539.9,461.9 L540.3,430.5 L540.7,459.0 L541.1,448.3 L541.5,458.2 L541.9,440.4 L542.4,461.4 L543.0,447.3 L543.4,463.1 L543.8,431.9 L544.3,462.9 L544.7,444.3 L545.5,461.7 L546.3,444.3 L546.8,455.9 L547.3,453.0 L547.9,457.4 L548.6,449.3 L549.3,455.4 L550.1,445.4 L550.8,456.7 L551.3,453.3 L551.7,462.5 L552.1,447.5 L552.8,460.7 L553.4,453.4 L553.8,454.5 L554.2,443.2 " stroke="#111" stroke-width="1.25" fill="none" stroke-linejoin="round"/>
<path d="M454.4,459.6 L455.0,428.0 L455.6,459.6" stroke="#111" stroke-width="1.1" fill="none"/>
<path d="M459.4,459.6 L460.0,425.0 L460.6,459.6" stroke="#111" stroke-width="1.1" fill="none"/>
<path d="M471.4,459.6 L472.0,422.0 L472.6,459.6" stroke="#111" stroke-width="1.1" fill="none"/>
<path d="M480.4,459.6 L481.0,420.0 L481.6,459.6" stroke="#111" stroke-width="1.1" fill="none"/>
<path d="M489.4,459.6 L490.0,418.0 L490.6,459.6" stroke="#111" stroke-width="1.1" fill="none"/>
<path d="M497.4,459.6 L498.0,422.0 L498.6,459.6" stroke="#111" stroke-width="1.1" fill="none"/>
<path d="M502.4,459.6 L503.0,417.0 L503.6,459.6" stroke="#111" stroke-width="1.1" fill="none"/>
<path d="M507.4,459.6 L508.0,420.0 L508.6,459.6" stroke="#111" stroke-width="1.1" fill="none"/>
<path d="M513.4,459.6 L514.0,424.0 L514.6,459.6" stroke="#111" stroke-width="1.1" fill="none"/>
<path d="M519.4,459.6 L520.0,423.0 L520.6,459.6" stroke="#111" stroke-width="1.1" fill="none"/>
<path d="M526.4,459.6 L527.0,426.0 L527.6,459.6" stroke="#111" stroke-width="1.1" fill="none"/>
<path d="M532.4,459.6 L533.0,424.0 L533.6,459.6" stroke="#111" stroke-width="1.1" fill="none"/>
<path d="M539.4,459.6 L540.0,429.0 L540.6,459.6" stroke="#111" stroke-width="1.1" fill="none"/>
<path d="M547.4,459.6 L548.0,428.0 L548.6,459.6" stroke="#111" stroke-width="1.1" fill="none"/>
<path d="M466.8,461.6 L467.4,394.7 L468.2,394.7 L468.8,461.6 Z" stroke="#111" stroke-width="0.6" fill="#111" stroke-linejoin="round"/>
<path d="M475.7,461.6 L476.3,351.5 L477.1,351.5 L477.7,461.6 Z" stroke="#111" stroke-width="0.6" fill="#111" stroke-linejoin="round"/>
<path d="M484.5,461.6 L485.1,356.7 L485.9,356.7 L486.5,461.6 Z" stroke="#111" stroke-width="0.6" fill="#111" stroke-linejoin="round"/>
<path d="M494.0,461.6 L494.6,388.6 L495.4,388.6 L496.0,461.6 Z" stroke="#111" stroke-width="0.6" fill="#111" stroke-linejoin="round"/>
<line x1="449.6" y1="465.3" x2="563.8" y2="465.3" stroke="#111" stroke-width="1.6"/>
<circle cx="459.3" cy="440.0" r="2.35" fill="none" stroke="#dc2a36" stroke-width="1.45"/>
<circle cx="467.8" cy="392.8" r="2.35" fill="none" stroke="#dc2a36" stroke-width="1.45"/>
<circle cx="476.7" cy="359.3" r="2.35" fill="none" stroke="#dc2a36" stroke-width="1.45"/>
<circle cx="485.5" cy="357.2" r="2.35" fill="none" stroke="#dc2a36" stroke-width="1.45"/>
<circle cx="494.6" cy="379.1" r="2.35" fill="none" stroke="#dc2a36" stroke-width="1.45"/>
<circle cx="503.5" cy="409.0" r="2.35" fill="none" stroke="#dc2a36" stroke-width="1.45"/>
<circle cx="512.6" cy="433.3" r="2.35" fill="none" stroke="#dc2a36" stroke-width="1.45"/>
<circle cx="539.4" cy="462.9" r="2.35" fill="none" stroke="#dc2a36" stroke-width="1.45"/>
<circle cx="548.0" cy="464.4" r="2.35" fill="none" stroke="#dc2a36" stroke-width="1.45"/>
<text x="461.8" y="479.0" font-size="10.00" font-weight="normal" text-anchor="middle" fill="#222" >1240.1</text>
<text x="501.3" y="479.0" font-size="10.00" font-weight="normal" text-anchor="middle" fill="#222" font-style="italic">m/z</text>
<text x="531.8" y="479.0" font-size="10.00" font-weight="normal" text-anchor="middle" fill="#222" >1242.1</text>
<text x="392.2" y="226.0" font-size="11.20" font-weight="bold" text-anchor="start" fill="#111" font-style="italic">C</text>
<text x="399.7" y="217.4" font-size="7.40" font-weight="bold" text-anchor="start" fill="#111" >4+</text>
<text x="399.5" y="228.2" font-size="8.60" font-weight="bold" text-anchor="start" fill="#111" >28</text>
<text x="542.2" y="225.7" font-size="11.20" font-weight="bold" text-anchor="start" fill="#111" font-style="italic">C</text>
<text x="549.7" y="219.0" font-size="7.40" font-weight="bold" text-anchor="start" fill="#111" >7+</text>
<text x="549.5" y="227.5" font-size="8.60" font-weight="bold" text-anchor="start" fill="#111" >46</text>
<text x="396.1" y="362.0" font-size="11.20" font-weight="bold" text-anchor="start" fill="#111" font-style="italic">Z</text>
<circle cx="404.8" cy="355.8" r="0.9" fill="#111"/>
<text x="407.2" y="355.4" font-size="7.80" font-weight="bold" text-anchor="start" fill="#111" >3+</text>
<text x="403.6" y="366.4" font-size="8.60" font-weight="bold" text-anchor="start" fill="#111" >32</text>
<text x="556.3" y="361.2" font-size="11.20" font-weight="bold" text-anchor="start" fill="#111" font-style="italic">Z</text>
<circle cx="565.0" cy="355.0" r="0.9" fill="#111"/>
<text x="567.4" y="354.6" font-size="7.80" font-weight="bold" text-anchor="start" fill="#111" >4+</text>
<text x="563.8" y="365.6" font-size="8.60" font-weight="bold" text-anchor="start" fill="#111" >43</text>
<text x="364.1" y="242.4" font-size="11.50" font-weight="bold" text-anchor="start" fill="#111" >Expt’l: 3290.76</text>
<text x="364.1" y="255.6" font-size="11.50" font-weight="bold" text-anchor="start" fill="#111" >Calc’d: 3290.76</text>
<text x="508.2" y="242.6" font-size="11.50" font-weight="bold" text-anchor="start" fill="#111" >Expt’l: 5267.68</text>
<text x="508.2" y="255.9" font-size="11.50" font-weight="bold" text-anchor="start" fill="#111" >Calc’d: 5267.69</text>
<text x="365.0" y="380.0" font-size="11.50" font-weight="bold" text-anchor="start" fill="#111" >Expt’l: 3732.93</text>
<text x="365.0" y="393.3" font-size="11.50" font-weight="bold" text-anchor="start" fill="#111" >Calc’d: 3732.94</text>
<text x="509.1" y="379.8" font-size="11.50" font-weight="bold" text-anchor="start" fill="#111" >Expt’l: 4956.55</text>
<text x="509.1" y="393.4" font-size="11.50" font-weight="bold" text-anchor="start" fill="#111" >Calc’d: 4956.57</text>
</svg>
</body></html>
